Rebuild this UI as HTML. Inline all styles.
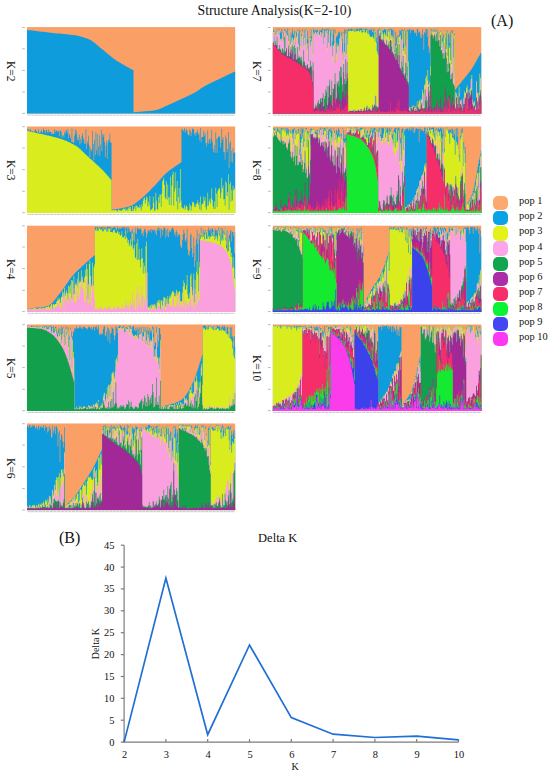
<!DOCTYPE html>
<html><head><meta charset="utf-8"><title>Structure Analysis</title>
<style>
html,body{margin:0;padding:0;background:#fff}
body{width:550px;height:773px;position:relative;overflow:hidden;font-family:"Liberation Serif",serif;color:#111}
.pn{position:absolute;display:block;shape-rendering:auto}
.t{position:absolute;white-space:nowrap;line-height:1}
.kl{position:absolute;white-space:nowrap;line-height:1;font-size:11.5px;transform-origin:0 0;transform:rotate(90deg)}
.sw{position:absolute;left:492.9px;width:15.6px;height:14.3px;border-radius:5px}
.lg{position:absolute;left:519px;font-size:10.4px;line-height:1;white-space:nowrap}
.tk{position:absolute;background:#dcdcdc;height:1px;width:1.6px}
.un{position:absolute;background:#e2e2e2;height:1.2px}
</style></head><body>

<div class="t" style="left:197.5px;top:3.5px;font-size:13.8px">Structure Analysis(K=2-10)</div>
<div class="t" style="left:491px;top:13.2px;font-size:16px">(A)</div>
<div class="t" style="left:59px;top:529.9px;font-size:16px">(B)</div>
<svg class="pn" style="left:0;top:0;width:550px;height:520px" viewBox="0 0 550 520">
<svg x="27.00" y="27.10" width="208.40" height="86.60" viewBox="0 0 313 400" preserveAspectRatio="none">
<rect width="313" height="400" fill="#FAA067"/>
<path fill="#0E9CDC" d="M0,400v-387h2v1h3v1h2v1h3v1h2v1h3v1h3v1h2v1h3v1h3v1h2v1h3v1h3v1h3v1h3v1h3v1h4v1h3v1h4v1h3v1h4v1h3v1h2v1h3v1h2v1h2v1h2v1h2v1h1v1h2v1h1v1h1v1h1v1h1v1h1v1h1v1h1v1h1v1h1v1h1v1h1v1h1v2h1v1h1v1h1v2h1v2h1v2h1v2h1v2h1v3h1v2h1v2h1v3h1v3h1v2h1v3h1v2h1v3h1v3h1v2h1v3h1v2h1v2h1v3h1v2h1v3h1v3h1v2h1v3h1v3h1v2h1v3h1v2h1v3h1v2h1v3h1v2h1v3h1v2h1v2h1v2h1v3h1v2h1v2h1v2h1v2h1v2h1v1h1v2h1v2h1v2h1v2h1v2h1v1h1v2h1v2h1v2h1v2h1v1h1v2h1v2h1v1h1v2h1v2h1v1h1v2h1v2h1v1h1v2h1v194h3v-1h4v-1h4v-1h5v-1h4v-1h3v-1h3v-1h3v-1h2v-1h2v-1h2v-1h1v-1h1v-1h1v-1h1v-2h1v-1h1v-1h1v-1h1v-2h1v-1h1v-2h1v-1h1v-2h1v-1h1v-1h1v-2h1v-1h1v-2h1v-1h1v-1h1v-2h1v-1h1v-1h1v-2h1v-1h1v-2h1v-1h1v-1h1v-2h1v-1h1v-2h1v-1h1v-2h1v-1h1v-2h1v-1h1v-2h1v-1h1v-1h1v-2h1v-1h1v-1h1v-2h1v-1h1v-2h1v-1h1v-1h1v-2h1v-1h1v-2h1v-1h1v-2h1v-1h1v-2h1v-1h1v-2h1v-2h1v-2h1v-1h1v-2h1v-2h1v-2h1v-2h1v-2h1v-3h1v-2h1v-2h1v-2h1v-2h1v-2h1v-2h1v-2h1v-1h1v-2h1v-2h1v-1h1v-2h1v-2h1v-1h1v-2h1v-1h1v-2h1v-1h1v-2h1v-1h1v-1h1v-2h1v-1h1v-2h1v-1h1v-2h1v-1h1v-1h1v-2h1v-1h1v-2h1v-1h1v-2h1v-1h1v-2h1v-1h1v-2h1v-1h1v-2h1v-1h1v-2h1v-1h1v-2h1v-1h1v-2h1v-1h1v-1h1v-2h1v-1h1v-2h1v-1h1v-2h1v-1h1V400z"/>
</svg>
<path d="M22.4,113.4h2.4M22.4,92.0h2.4M22.4,70.4h2.4M22.4,48.8h2.4M22.4,27.5h2.4" stroke="#a9a9a9" stroke-width="0.9" fill="none"/>
<path d="M27.5,115.1H234.9" stroke="#c6c6c6" stroke-width="1" stroke-dasharray="3.2 0.5" fill="none"/>
<svg x="27.00" y="126.30" width="208.40" height="86.70" viewBox="0 0 313 400" preserveAspectRatio="none">
<rect width="313" height="400" fill="#FAA067"/>
<path fill="#0E9CDC" d="M0,400v-385h1v-4h1v7h1v5h1v-7h1v-4h1v13h1v-1h1v-1h1v2h1v3h1v-8h1v-7h1v6h1v4h1v7h1v-4h1v-14h1v18h1v3h1v-8h1v-9h1v8h1v7h1v-22h1v10h2v13h1v-14h1v-2h1v9h1v6h1v-16h1v11h1v-3h1v4h1v10h1v-11h1v9h2v1h1v-22h1v14h1v-10h1v2h1v3h1v2h1v-5h1v26h1v-25h2v4h1v28h1v-10h1v-2h1v11h1v-26h1v8h1v-18h1v5h1v10h1v-18h1v43h1v-21h1v8h1v10h1v20h1v-63h1v62h1v3h1v1h1v-32h1v-32h1v23h1v-15h1v46h1v-16h1v13h1v-24h1v45h1v-25h1v18h1v-33h1v-12h1v20h1v11h1v17h1v1h1v-67h1v90h1v-34h1v11h1v-37h1v45h1v53h1v-40h1v13h1v-8h1v-86h1v61h1v76h1v-95h1v69h1v-105h1v83h1v-76h1v97h1v-38h1v-52h1v96h1v-53h1v-68h1v99h1v-80h1v13h1v-13h1v38h1v70h1v-54h1v-24h1v86h1v-74h1v-15h1v4h1v-33h1v43h1v-1h1v310h1v-1h2v-1h2v-1h2v-1h2v-1h3v-1h2v-1h2v-1h2v-1h1v-1h2v-1h1v-1h2v-1h1v-1h1v-1h1v-1h1v-1h1v-1h1v-2h1v-1h1v-2h1v-2h1v-2h1v-2h1v-3h1v-2h1v-2h1v-3h1v-2h1v-3h1v-2h1v-3h1v-3h1v-2h1v-3h1v-2h1v-3h1v-3h1v-2h1v-3h1v-3h1v-3h1v-3h1v-3h1v-3h1v-3h1v-4h1v-3h1v-3h1v-3h1v-3h1v-3h1v-3h1v-4h1v-3h1v-3h1v-4h1v-3h1v-4h1v-3h1v-4h1v-3h1v-4h1v-3h1v-4h1v-3h1v-3h1v-3h1v-3h1v-3h1v-3h1v-3h1v-2h1v-3h1v-2h1v-2h1v-3h1v-2h1v-2h1v-2h1v-2h1v-2h1v-3h1v-2h1v-2h1v-2h1v-2h1v-2h1v-2h1v-2h1v-2h1v-2h1v-3h1v-153h1v1h1v8h1v-3h1v-12h1v23h1v-12h1v-6h1v8h1v16h1v7h1v-3h1v-28h1v10h1v24h1v-17h1v-19h1v3h1v2h1v23h1v-9h1v15h1v-15h2v-13h1v24h1v-9h1v34h1v-57h1v66h1v-23h1v-3h1v1h1v-29h1v23h1v-13h1v48h1v14h1v-16h1v-58h1v62h1v-16h1v-7h1v22h1v-22h1v-41h1v55h1v32h1v15h1v-31h1v36h1v-95h1v31h1v64h1v-69h1v-7h1v3h1v-4h1v52h1v-22h1v-65h1v51h1v-10h1v67h1v1h1v34h1v-111h1v13h1v63h1v-15h1v-78h1v166h1v-114h1v-9h1v95h1v-51h1v53h1v-66h1v26h1v-4h1v-4h1V400z"/>
<path fill="#D9EC1E" d="M0,400v-379h1v1h1v1h1v1h2v1h1v1h2v1h1v1h2v1h1v1h2v1h1v1h2v1h1v1h2v1h1v1h2v1h1v1h2v1h1v1h2v1h1v1h2v1h1v1h1v1h2v1h1v1h1v1h2v1h1v1h1v1h1v1h1v1h2v1h1v1h1v1h1v1h1v1h1v1h1v1h1v1h1v1h1v1h1v2h1v1h1v1h1v1h1v2h1v1h1v1h1v2h1v1h1v2h1v1h1v2h1v2h1v1h1v2h1v2h1v2h1v1h1v2h1v2h1v3h1v2h1v3h1v2h1v3h1v3h1v3h1v3h1v3h1v3h1v3h1v3h1v3h1v3h1v3h1v2h1v3h1v3h1v3h1v3h1v2h1v3h1v3h1v3h1v3h1v2h1v3h1v3h1v3h1v2h1v3h1v3h1v3h1v3h1v3h1v3h1v3h1v3h1v3h1v3h1v4h1v3h1v4h1v3h1v4h1v3h1v4h1v4h1v3h1v4h1v4h1v141h1v-2h2v-2h1v3h1v-3h2v3h1v4h1v-2h1v-9h1v5h1v2h1v1h1v-1h1v2h1v-6h1v-4h1v-1h1v5h1v-6h1v12h1v-5h1v-5h1v11h1v-15h1v-4h1v9h1v-9h1v19h2v-25h1v25h1v-10h1v-8h1v-7h1v24h1v-25h1v3h1v8h1v-4h1v6h1v-16h1v11h1v15h1v-29h1v11h1v-27h1v-10h1v-4h1v28h1v-17h1v-16h1v6h1v40h1v-22h1v17h1v-44h1v68h1v-4h1v-3h1v-4h1v-54h1v29h1v37h1v-3h1v-80h1v37h1v38h1v3h1v-59h1v28h1v-39h1v1h1v55h1v-61h1v-55h1v-7h1v-11h1v34h1v56h1v9h1v-83h1v85h1v-69h1v59h1v34h1v-36h1v-93h1v131h1v-91h1v-49h1v-14h1v157h1v-66h1v-89h1v74h1v61h1v-95h1v132h1v-58h1v-41h1v69h1v-157h1v146h1v32h2v7h1v-5h1v-14h1v22h1v-14h1v-7h1v7h1v15h1v5h1v-5h1v-29h1v8h1v23h1v-19h1v-20h1v1h1v1h1v20h1v-10h1v13h1v-17h1v-2h1v-14h1v22h1v-12h1v32h1v-59h1v64h1v-26h1v-5h1v-2h1v-31h1v20h1v-15h1v45h1v11h1v-18h1v-61h1v59h1v-18h1v-10h1v19h1v-24h1v-45h1v53h1v29h1v12h1v-34h1v34h1v-98h1v28h1v61h1v-72h1v-10h2v-8h1v50h1v-25h1v-69h1v48h1v-13h1v64h1v-2h1v30h1v-113h1v10h1v59h1v-18h1v-81h1v163h1v-118h1v-11h1v91h1v-54h1v49h1v-68h1v22h1v-7h1v-7h1V400z"/>
</svg>
<path d="M22.4,212.7h2.4M22.4,191.3h2.4M22.4,169.7h2.4M22.4,148.0h2.4M22.4,126.7h2.4" stroke="#a9a9a9" stroke-width="0.9" fill="none"/>
<path d="M27.5,214.4H234.9" stroke="#c6c6c6" stroke-width="1" stroke-dasharray="3.2 0.5" fill="none"/>
<svg x="27.00" y="225.40" width="208.40" height="86.50" viewBox="0 0 313 400" preserveAspectRatio="none">
<rect width="313" height="400" fill="#FAA067"/>
<path fill="#0E9CDC" d="M0,400v-15h2v-1h3v-1h3v-1h4v-1h3v-1h3v-1h3v-1h2v-1h3v-1h1v-1h2v-1h1v-1h2v-2h1v-2h1v-2h1v-2h1v-3h1v-3h1v-3h1v-3h1v-4h1v-4h1v-3h1v-4h1v-5h1v-4h1v-4h1v-4h1v-4h1v-4h1v-4h1v-4h1v-4h1v-4h1v-4h1v-4h1v-5h1v-4h1v-5h1v-4h1v-5h1v-4h1v-5h1v-4h1v-5h1v-4h1v-4h1v-4h1v-3h1v-4h1v-3h1v-3h1v-4h1v-3h1v-3h1v-3h1v-3h1v-3h1v-2h1v-3h1v-3h1v-3h1v-3h1v-3h1v-3h1v-2h1v-3h1v-3h1v-3h1v-3h1v-2h1v-3h1v-3h1v-3h1v-2h1v-3h1v-3h1v-2h1v-3h1v-3h1v-3h1v-2h1v-129h1v-2h1v2h1v-2h1v4h1v8h1v-11h1v2h1v1h1v-3h1v-1h1v2h1v11h1v-12h1v3h1v5h1v-9h1v11h1v-9h1v-3h1v3h1v-3h1v4h1v-2h1v16h1v-15h1v4h1v-1h1v-4h1v-2h1v2h1v11h1v1h1v-9h1v-5h1v14h1v-6h1v-3h1v4h1v-6h1v6h1v-7h2v1h1v-1h1v33h1v-29h1v-4h1v1h1v25h1v-25h1v6h1v13h1v2h1v-4h1v50h1v-61h1v51h1v-34h1v44h1v-66h1v25h1v6h1v-28h1v-4h1v8h1v2h1v-2h1v-6h1v10h1v22h1v-8h1v16h1v-24h1v-11h1v2h1v14h1v25h1v-16h1v-16h1v-2h1v6h1v-6h1v-5h1v16h1v-17h1v5h1v-3h1v7h1v-7h1v19h1v-12h1v20h1v-33h1v8h1v-11h1v15h1v-14h1v45h1v-38h2v27h1v-23h1v-14h1v3h1v5h1v41h1v-35h1v27h1v-35h1v41h1v-23h1v-11h1v9h1v-8h1v-8h1v-3h2v11h1v20h1v-10h1v18h1v-28h1v10h1v21h1v-10h1v-3h1v6h1v46h1v7h1v6h1v-38h1v-25h1v-22h1v15h1v34h1v7h1v-16h1v-43h1v95h1v24h1v4h1v-22h1v-74h1v-6h1v66h1v43h1v-19h1v-73h1v137h1v-98h1v69h1v-99h1v-43h1v65h1v82h1v-131h1v28h1v-19h1v-37h1v35h1v8h1v-34h1v25h1v-10h1v-8h1v-4h1v11h1v14h1v-25h1v-11h1v12h1v2h1v-8h1v24h1v-23h1v-5h1v9h1v20h1v23h1v-48h1v8h1v-1h1v14h1v-16h1v-13h1v15h1v15h1v8h1v-36h1v17h1v-12h1v43h1v-33h1v8h1v-23h1v47h1v34h1v-68h1v85h1v-43h1v-17h1v-7h1v-17h2v50h1v-43h1v-1h1v19h1v79h1v-96h1V400z"/>
<path fill="#D9EC1E" d="M0,400v-14h1v-1h1v3h1v-4h1v3h1v-2h4v-2h2v-1h1v2h1v2h1v-2h1v4h1v-4h2v-3h1v2h1v-2h1v6h1v-8h1v5h1v-4h1v3h2v-2h1v-5h1v2h1v-1h1v-2h1v-2h1v8h1v-4h1v-6h1v-6h1v1h1v21h1v-22h1v-1h1v4h1v-5h2v-11h1v-3h1v-14h1v11h1v-9h1v5h1v17h1v-29h1v1h1v-27h1v8h1v23h1v-47h1v36h1v-13h1v-11h1v14h1v31h1v-65h1v2h1v33h1v-40h1v-23h1v87h1v-84h1v66h1v-87h1v82h1v-43h1v-5h1v9h1v-31h1v41h1v-71h1v49h1v-9h1v6h1v-55h1v47h1v-18h1v26h1v3h1v-24h1v-36h1v29h1v-55h1v22h1v141h1v-70h1v-93h1v-17h1v71h1v49h1v-10h1v-99h1v106h1v-84h1v-14h1v-162h1v6h1v-14h1v15h1v-7h1v6h1v-11h2v5h1v2h1v-7h1v13h1v1h1v-6h1v-5h1v2h1v-3h1v12h1v-9h1v11h1v-17h1v5h1v-6h1v18h1v1h1v-1h1v3h1v-8h1v-6h1v2h1v13h2v2h1v-12h1v5h1v10h1v-9h1v14h1v3h1v-4h1v-16h1v27h1v3h1v-4h1v-5h1v15h1v-37h1v28h1v6h1v21h1v-14h1v28h1v-11h1v-20h1v35h1v-9h1v-53h1v76h1v-8h1v-16h1v58h1v6h1v-70h1v77h1v-97h1v95h1v-49h1v52h1v33h1v-40h1v-48h1v45h1v72h1v-50h1v16h1v33h1v-127h1v-20h1v143h1v162h1v-4h1v6h1v-8h1v-5h1v14h1v-18h1v4h1v-4h1v6h1v-9h1v18h1v-13h1v19h1v-35h1v7h1v-12h1v14h1v-16h1v44h1v-40h1v-2h1v26h1v-24h1v-17h1v1h1v4h1v39h1v-37h1v25h1v-37h1v38h1v-25h1v-14h1v7h1v-11h1v-10h1v-6h1v-3h1v8h1v17h1v-13h1v15h1v-31h1v8h1v17h1v-13h1v-6h1v2h1v42h1v3h1v2h1v-42h1v-29h1v-27h1v11h1v29h1v2h1v-20h1v-48h1v90h1v19h2v-26h1v-79h1v-10h1v61h1v39h1v-23h1v-78h1v133h1v-103h1v65h1v-103h1v-47h1v60h1v77h1v-135h1v24h1v-131h1v-27h1v18h1v3h1v-13h1v8h1v14h1v-23h1v-16h1v36h1v1h1v-38h1v27h1v-4h1v15h1v-12h1v1h1v-12h1v9h1v-18h1v20h1v16h1v-18h1v13h1v-16h1v10h1v15h1v-48h1v16h1v10h1v39h1v-65h1v48h1v-11h1v10h1v-32h1v5h1v-30h1v57h1v35h1v6h1v11h1v-5h1v-54h1v11h1v27h1v45h1v-18h1v70h1v-52h1v45h1v55h1v-45h1V400z"/>
<path fill="#FBA0DE" d="M0,400v-9h1v-3h1v3h1v-6h1v4h1v-3h1v3h1v-3h1v3h2v-3h1v-1h1v7h1v-4h1v3h1v-2h1v-3h1v1h1v-2h1v4h1v-5h1v6h1v-7h1v3h1v6h1v-6h1v-1h1v5h1v-11h1v4h1v5h1v-2h1v-2h1v6h1v-1h1v-17h1v15h1v-16h1v19h1v-9h1v4h1v-6h1v-3h1v2h1v-4h1v1h1v-17h1v-1h1v-13h1v34h1v12h1v-31h1v11h1v-47h1v1h1v59h1v-81h1v40h1v-5h1v16h1v-18h1v27h1v-50h1v18h1v15h1v-15h1v5h1v20h1v-96h1v76h1v-46h1v69h1v2h1v-56h1v48h1v-94h1v68h1v-56h1v72h1v-30h1v-35h1v-34h1v46h1v-31h1v36h1v17h1v43h1v3h1v-105h1v73h1v-91h1v138h1v-14h1v-24h1v-84h1v29h1v90h1v-58h1v-77h1v76h1v-34h1v66h1v44h1v6h1v-14h1v14h1v-7h1v6h1v-12h2v5h1v2h1v-8h1v13h2v-6h1v-5h1v1h1v-3h1v11h1v-8h1v10h1v-17h1v4h1v-6h1v17h2v-1h1v2h1v-9h1v-7h1v1h1v12h1v-1h2v-13h1v4h1v8h1v-11h1v12h1v1h1v-6h1v-18h1v24h2v-6h1v-8h1v12h1v-41h1v24h1v1h1v16h1v-19h1v23h1v-16h1v-26h1v29h1v-14h1v-59h1v70h1v-13h1v-22h1v52h1v-1h1v-76h1v70h1v-104h1v88h1v-56h1v46h1v25h1v-46h1v-55h1v38h1v65h1v-56h1v11h1v26h1v-133h1v-26h1v137h1v42h1v6h1v-7h1v8h1v-14h1v8h1v4h1v-19h1v20h1v-4h1v-16h1v12h1v6h2v-4h1v-25h1v9h1v7h1v-4h1v19h1v-3h1v-14h1v5h1v7h1v-45h1v5h1v42h2v-14h1v-6h1v-17h1v14h1v7h1v-19h1v20h1v-5h1v10h1v-33h1v-26h1v14h1v46h1v-3h1v-3h1v-15h1v-41h1v64h1v-16h1v-47h1v7h1v51h1v-14h1v13h1v-17h1v25h1v-79h1v53h1v28h1v-44h1v16h1v9h1v-1h1v16h1v-34h1v6h1v-75h1v62h1v34h2v-56h1v-70h1v139h1v-95h1v69h1v-37h1v43h1v-62h1v45h1v-109h1v106h1v-279h2v1h1v1h2v1h2v1h1v1h2v1h2v1h1v1h2v1h2v1h1v1h1v1h2v1h1v1h1v1h1v1h1v1h1v2h1v1h1v2h1v1h1v2h1v3h1v2h1v3h1v3h1v3h1v4h1v3h1v4h1v4h1v5h1v6h1v7h1v8h1v9h1v10h1v12h1v13h1v21h1v27h1v27h1v23h1v17h1V400z"/>
</svg>
<path d="M22.4,311.6h2.4M22.4,290.3h2.4M22.4,268.6h2.4M22.4,247.0h2.4M22.4,225.8h2.4" stroke="#a9a9a9" stroke-width="0.9" fill="none"/>
<path d="M27.5,313.3H234.9" stroke="#c6c6c6" stroke-width="1" stroke-dasharray="3.2 0.5" fill="none"/>
<svg x="27.00" y="324.30" width="208.40" height="86.70" viewBox="0 0 313 400" preserveAspectRatio="none">
<rect width="313" height="400" fill="#FAA067"/>
<path fill="#0E9CDC" d="M0,400v-391h1v-3h1v1h1v1h1v4h2v-5h1v3h3v2h1v-1h1v-3h1v4h1v-5h1v4h1v-4h1v1h1v7h1v-5h1v2h1v-5h1v8h1v-4h1v-4h1v15h1v-13h2v1h1v-4h1v8h1v2h1v-6h1v9h1v-13h1v4h1v-1h1v3h1v1h1v-5h1v24h1v-14h1v-7h1v2h1v16h1v17h1v-9h1v-18h1v17h1v-17h1v21h1v-31h1v66h1v-58h1v-3h1v11h1v71h1v-44h1v-43h1v29h1v-2h1v-23h1v34h1v10h1v22h1v-63h1v16h1v105h1v-83h1v-22h1v3h1v-17h1v1h2v-11h1v10h1v2h1v-3h1v-2h1v-8h1v9h1v-2h1v8h1v-3h1v-8h1v1h1v-1h1v6h2v4h1v3h1v-7h1v-6h1v1h1v2h1v6h1v-6h1v12h1v-5h1v-10h1v1h1v18h1v-20h1v5h1v-7h1v16h1v-5h1v-13h1v38h1v6h1v-7h1v5h1v-8h1v6h1v-24h1v-12h1v-1h1v46h1v-4h1v-17h1v-22h1v64h1v-59h1v10h1v60h1v-45h1v-3h1v-27h1v6h1v3h1v29h1v24h1v-21h1v-44h1v3h1v28h1v-22h1v-6h1v-6h1v1h1v1h1v3h1v7h1v-4h1v-4h1v-2h1v12h1v3h1v-7h1v-4h1v3h1v3h1v-11h1v4h1v-3h2v9h1v15h1v-20h1v-2h1v-2h1v20h1v4h1v-16h1v12h1v-14h1v36h1v-30h1v26h1v-34h1v30h1v-29h1v23h1v2h1v1h1v-26h1v18h1v-18h1v43h1v-30h1v59h1v-74h1v20h1v60h1v-74h1v14h1v8h1v-14h1v-16h1v33h1v-29h1v87h1v-15h1v-2h1v-72h1v37h1v56h1v-27h1v-59h1v-1h1v29h1v335h1v-1h1v-1h1v-1h1v-1h1v-1h1v-1h2v-1h1v-1h1v-1h1v-1h2v-1h1v-1h1v-1h1v-1h2v-1h1v-1h1v-1h1v-1h1v-2h1v-1h1v-1h1v-1h1v-2h1v-1h1v-2h1v-1h1v-2h1v-2h1v-3h1v-2h1v-4h1v-3h1v-4h1v-5h1v-4h1v-5h1v-5h1v-5h1v-6h1v-6h1v-5h1v-6h1v-6h1v-6h1v-6h1v-7h1v-8h1v-7h1v-9h1v-9h1v-9h1v-9h1v-10h1v-10h1v-10h1v-9h1v-10h1v-10h1v-9h1v-133h1v-1h1v-1h2v4h1v7h1v-10h1v5h1v-5h1v-1h1v3h1v4h1v-4h1v6h1v-1h1v10h1v-15h2v12h1v1h1v-4h1v-12h1v2h1v3h1v-5h1v5h1v10h1v6h1v-14h1v-3h1v-3h1v10h1v-10h1v7h1v24h1v1h1v-27h1v2h1v21h1v5h1v-25h1v1h1v41h1v-45h1v49h1v-7h1v44h1v-43h1v48h1V400z"/>
<path fill="#D9EC1E" d="M0,400v-389h1v-4h2v2h1v4h1v-1h1v1h2v-1h1v1h1v1h2v-5h1v4h1v1h1v2h1v-8h1v4h1v6h1v-6h1v1h1v-6h1v9h1v2h1v-8h1v14h1v-6h1v-7h2v15h1v-4h1v-1h2v-1h1v-7h1v1h1v25h1v-8h1v-16h1v23h1v4h1v-7h1v-18h1v15h1v15h1v14h1v-7h1v-14h1v15h1v-21h1v12h1v25h1v17h1v-43h1v-27h1v42h1v39h1v-6h1v-71h1v30h1v-9h1v-14h1v76h1v-34h1v96h1v-142h1v34h1v140h1v-127h1v55h1v30h1v232h1v1h1v-1h1v-10h1v9h1v2h1v-4h1v-2h1v-8h1v8h1v-2h1v8h1v-3h1v-8h2v-1h1v5h2v3h1v3h1v-7h1v-7h2v3h1v5h1v-7h1v11h1v-5h1v-11h1v-1h1v17h1v-22h1v4h1v-9h1v13h1v-8h1v-16h1v34h1v3h1v-10h1v1h1v-12h1v2h1v-29h1v-16h1v-6h1v40h1v-11h1v-24h1v-30h1v55h1v-67h1v1h1v51h1v-55h1v-12h1v-36h1v-4h1v-6h1v19h1v13h1v-31h1v-56h1v-7h1v18h1v-33h1v-124h2v1h1v-7h1v7h2v1h1v-5h1v5h1v19h1v-1h1v-19h1v2h1v1h1v2h1v-14h1v28h1v-25h1v10h1v-1h1v18h1v7h1v6h1v2h1v3h1v-8h1v-1h1v6h1v-6h1v12h1v8h1v-21h1v1h1v-3h1v-1h1v-6h1v39h1v-23h1v5h1v-25h1v-2h1v59h1v-16h1v21h1v-51h1v16h1v36h1v-15h1v-10h1v8h1v-6h1v-50h1v36h1v92h1v-5h1v-33h1v36h1v-110h1v108h1v9h1v29h1v-34h1v55h1v-133h1v315h1v-8h1v-1h1v-1h1v-2h1v1h1v1h1v2h1v-6h1v2h1v11h1v-11h1v-6h1v1h1v-1h1v3h1v1h1v-2h2v6h1v-15h1v8h1v11h1v-18h1v10h1v-5h1v-12h1v18h1v-2h1v-16h1v24h1v-20h1v9h1v-5h1v12h1v-41h1v13h1v-6h1v-3h1v9h1v18h1v-48h1v3h1v-21h1v-1h1v16h1v-34h1v39h1v-3h1v-7h1v-57h1v13h1v-4h1v-28h1v25h1v113h1v-38h1v-69h1v26h1v-27h1v-66h1v-18h1v98h1v-266h1v6h1v-3h1v8h1v1h1v-7h1v-9h1v15h1v-2h1v-15h1v5h1v2h1v-4h1v8h2v8h1v-3h1v-13h1v14h1v-1h1v1h1v-4h1v-4h1v3h1v4h1v7h1v-6h1v4h1v-1h1v-7h1v6h1v2h1v1h1v2h1v7h1v4h2v4h1v-7h1v22h1v-43h1v48h2v10h1v35h1v-32h1v65h1v13h1v-31h1V400z"/>
<path fill="#FBA0DE" d="M0,400v-386h1v-7h2v4h1v3h2v-1h1v1h1v2h1v-3h1v1h1v1h1v-5h1v8h3v-9h1v7h1v2h1v-4h1v2h1v-7h1v11h1v-2h1v-5h1v11h1v-5h1v-4h1v3h1v11h1v-1h1v-6h1v2h2v-10h1v2h1v24h1v-2h1v-19h1v20h1v4h1v-2h1v-3h1v-2h1v12h1v15h1v-6h1v-14h1v39h1v-21h1v-8h1v37h1v7h1v-41h1v-33h1v53h1v29h1v1h1v-83h1v57h1v-27h1v-15h1v81h1v48h1v4h1v-145h1v35h1v157h1v-72h1v4h1v86h1v154h2v1h1v-4h1v2h1v3h1v-6h1v4h1v-1h1v-4h2v5h1v-3h1v-2h1v-2h1v2h1v-2h1v2h1v4h1v1h1v1h1v-16h1v2h1v11h1v-4h1v-6h1v10h1v-5h1v-10h1v3h1v13h1v-15h1v1h1v16h1v-15h1v-11h1v-13h1v40h1v-1h1v-13h1v7h1v-6h1v-3h1v-26h1v-19h1v-12h1v39h1v2h1v-36h1v13h1v34h1v-28h1v-53h1v53h1v8h1v-74h1v-12h1v48h1v-88h1v35h1v29h1v-66h1v-27h1v-34h1v15h1v-8h1v-144h1v-8h1v10h1v-13h1v8h1v-3h1v5h1v-5h1v9h1v12h1v-1h1v-5h1v-11h1v2h1v1h1v-17h1v41h1v-31h1v24h1v-21h1v25h1v4h1v7h1v4h2v-9h1v7h1v-1h1v5h1v9h1v-2h1v-20h1v3h1v-7h2v-7h1v48h1v-30h1v18h1v-37h1v13h1v43h1v-17h1v24h1v-53h1v15h1v45h1v-22h1v-4h1v30h1v-33h1v-45h1v43h1v76h1v3h1v-38h1v41h1v-118h1v134h1v-5h1v18h1v-32h1v65h1v-119h1v287h1v-6h1v-4h1v1h1v6h1v-8h1v6h1v-4h1v-5h1v9h1v4h1v-11h1v5h1v-8h1v-3h1v3h1v2h1v-2h1v1h1v4h1v-2h1v-6h1v14h1v-21h1v21h1v2h1v-25h1v24h1v-11h1v-14h1v22h1v-13h1v13h1v-16h1v16h1v-44h1v12h1v6h1v-7h2v18h1v-47h1v40h1v-36h1v12h1v3h1v37h1v-47h1v-8h1v23h1v-84h1v58h1v-39h1v16h1v-9h1v98h1v-13h1v-58h1v9h1v-42h1v-44h1v-46h1v144h1v46h1v5h1v-3h1v8h2v-7h1v-10h1v16h1v-2h1v-16h1v5h1v2h1v-4h1v8h1v-1h1v8h1v-4h1v-12h1v13h1v-2h1v1h1v-5h1v-3h1v2h1v3h1v7h1v-7h1v4h1v-2h1v-8h1v5h1v2h1v-1h2v4h1v1h1v-4h1v-2h1v-11h1v15h1v-50h1v42h1v-11h1v-7h1v14h1v-56h1v40h1v-12h1v-59h1V400z"/>
<path fill="#12A04C" d="M0,400v-385h1v1h4v1h5v1h4v1h3v1h3v1h2v1h1v1h1v1h1v1h1v1h1v1h1v2h1v1h1v2h1v2h1v2h1v2h1v2h1v2h1v2h1v2h1v3h1v2h1v3h1v3h1v4h1v3h1v4h1v4h1v4h1v4h1v5h1v4h1v5h1v5h1v5h1v5h1v6h1v7h1v7h1v7h1v8h1v8h1v8h1v9h1v9h1v10h1v10h1v11h1v11h1v11h1v11h1v11h1v11h1v127h1v2h1v-1h1v-4h1v3h1v1h1v-5h1v6h1v-2h1v-6h1v7h2v-2h1v-1h1v2h1v-5h1v-2h1v1h1v6h2v1h1v-11h1v10h1v-2h1v1h1v-4h1v4h1v-2h1v-5h1v6h1v1h1v-7h1v-2h1v11h1v-1h1v-4h1v-30h1v35h2v-8h1v3h1v-4h1v3h1v-35h1v14h1v11h1v11h1v2h1v-4h1v-4h1v10h1v-34h1v27h1v6h1v-36h1v31h1v-40h1v39h1v-73h1v71h1v-11h1v-9h1v-94h1v96h1v25h1v-6h1v5h1v-9h1v8h1v-14h1v7h1v-5h1v4h1v-7h1v7h1v11h1v-2h1v-6h1v-13h1v1h1v-1h1v-18h1v39h1v-32h1v22h1v-23h1v24h1v2h1v5h1v2h1v-2h1v-11h1v6h1v-3h1v3h1v7h1v-5h1v-22h1v1h1v-9h1v-3h1v-9h1v45h1v-33h1v16h1v-41h1v10h1v39h1v-20h1v20h1v-57h1v12h1v40h1v-26h1v-10h1v26h1v-38h1v-51h1v38h1v71h1v-4h1v-43h1v34h1v-125h1v127h1v-13h1v11h1v-41h1v58h1v-127h1v130h1v-1h1v-9h1v10h1v-1h1v-9h1v10h1v-7h1v-8h1v12h1v3h1v1h1v-2h1v-8h1v-6h1v2h1v5h1v-3h1v-2h1v13h1v-1h1v-17h1v19h1v-22h1v21h2v-21h1v20h1v-10h1v-8h1v15h1v5h1v-6h1v-11h1v12h1v-16h1v-7h2v15h1v-10h1v5h1v-52h1v59h1v-5h1v-12h1v-12h1v31h1v-15h1v19h1v-11h1v-42h1v53h1v-65h1v32h1v-50h1v86h1v-10h1v-12h1v-31h1v-20h1v-77h1v-5h1v137h1v20h2v-6h1v6h1v1h1v-6h1v5h2v-2h1v1h1v-9h1v5h1v-2h2v-1h1v8h1v-4h1v-1h1v5h1v-1h1v-2h1v-6h1v3h1v1h1v2h1v3h1v-6h1v5h1v-1h1v-4h1v4h2v-1h1v2h1v1h1v-3h1v-2h2v5h1v-4h1v-14h1v8h1v-4h1v-4h1v2h1v-30h1v24h1v1h1v-53h1V400z"/>
</svg>
<path d="M22.4,410.7h2.4M22.4,389.3h2.4M22.4,367.6h2.4M22.4,346.0h2.4M22.4,324.7h2.4" stroke="#a9a9a9" stroke-width="0.9" fill="none"/>
<path d="M27.5,412.4H234.9" stroke="#c6c6c6" stroke-width="1" stroke-dasharray="3.2 0.5" fill="none"/>
<svg x="27.00" y="423.30" width="208.40" height="87.00" viewBox="0 0 313 400" preserveAspectRatio="none">
<rect width="313" height="400" fill="#FAA067"/>
<path fill="#0E9CDC" d="M0,400v-390h1v5h1v4h1v-11h2v13h1v-4h1v-2h1v-6h1v1h1v4h1v-4h1v14h1v-3h1v-8h1v15h1v-10h1v-8h1v19h1v-17h1v5h1v4h1v-10h1v9h1v-11h1v10h1v14h1v-25h1v12h1v-3h1v25h1v-25h1v20h1v-26h1v21h1v-10h1v45h1v-5h1v-53h1v34h1v-10h1v-19h1v35h1v-34h1v-2h1v11h1v81h1v-63h1v-8h1v144h1v-102h1v-27h1v8h1v26h1v28h1v-25h1v-68h1v362h1v-3h1v-3h1v-3h1v-3h1v-3h1v-2h1v-3h1v-3h1v-3h1v-3h1v-4h1v-3h1v-3h1v-4h1v-4h1v-4h1v-4h1v-5h1v-4h1v-5h1v-5h1v-4h1v-5h1v-5h1v-5h1v-5h1v-4h1v-5h1v-5h1v-4h1v-5h1v-5h1v-5h1v-4h1v-5h1v-5h1v-5h1v-5h1v-6h1v-5h1v-5h1v-6h1v-5h1v-6h1v-6h1v-7h1v-6h1v-6h1v-7h1v-7h1v-6h1v-7h1v-6h1v-7h1v-6h1v-95h1v-12h1v-3h1v2h1v-6h1v23h1v-13h1v3h1v-8h1v8h1v14h1v-17h1v16h1v-25h1v45h1v-37h1v36h1v-41h1v5h1v8h1v-7h1v-9h1v9h1v-4h1v29h1v-35h1v12h1v-10h1v4h1v7h1v45h1v-43h1v-3h1v-8h1v50h1v-38h1v12h1v-28h1v31h1v-27h1v54h1v-20h1v-36h1v12h1v81h1v-86h1v9h1v-1h1v5h1v52h1v-70h1v5h1v1h1v3h2v6h1v18h1v77h1v-104h1v15h1v-23h1v14h1v-12h1v9h1v10h1v-15h1v5h1v-9h1v11h1v-14h3v10h1v-6h1v11h1v3h1v-3h1v-11h1v21h1v-17h1v24h1v-28h1v-3h1v15h1v11h1v-28h1v19h1v25h1v7h1v-37h1v-7h1v34h1v-29h1v30h1v17h1v-51h1v5h1v7h1v-17h1v14h1v97h1v-69h1v-15h1v9h1v28h1v-6h1v-47h1v-8h1v34h1v-35h1v17h1v51h1v-34h1v-20h1v71h1v-91h1v1h2v12h1v-13h1v2h1v-2h1v13h1v12h1v-21h1v-3h1v18h1v-17h1v8h1v-4h1v-6h1v3h1v25h1v-21h1v-4h1v30h1v3h1v1h1v-26h1v-2h1v-7h1v9h1v-1h1v-7h1v-2h1v12h1v27h1v-11h1v-2h1v-25h1v8h1v-9h1v24h1v41h1v1h1v-59h1v34h1v45h1v-12h1v-59h1v-7h1v85h1v78h1v-171h1v14h1v-3h2v9h1v-2h1v-12h1v12h1v-17h1v-1h1v26h1v-24h1v17h1v-16h1v22h1v24h1v-39h1v-10h1v7h1v19h1v8h1v-19h1v3h1v-4h1v-10h1v5h1v-4h1v7h1v97h1v-105h1v43h1v-20h1v38h1v-23h1v-15h1v26h1v-31h1V400z"/>
<path fill="#D9EC1E" d="M0,400v-19h1v4h1v4h1v-11h1v-1h1v12h1v-5h1v-2h1v-6h2v4h1v-5h1v13h1v-4h1v-8h1v14h1v-11h1v-9h1v18h1v-18h1v4h1v3h1v-11h1v6h1v-12h1v8h1v11h1v-27h1v9h1v-7h1v22h1v-29h1v17h1v-31h1v17h1v-14h1v40h1v-10h1v-60h1v26h1v-19h1v-30h1v24h1v-46h1v-13h1v1h1v70h1v-73h1v-18h1v134h1v-112h1v-37h1v-2h1v17h1v17h1v-35h1v-77h1v249h1v-4h1v-2h1v-5h1v4h1v-5h2v-7h1v-2h1v-3h2v-10h1v-3h1v9h1v-17h1v18h1v-23h1v14h1v-21h1v-3h1v43h1v-9h1v-51h1v-2h1v4h1v44h1v-60h1v-11h1v2h1v6h1v-19h1v19h1v41h1v-64h1v-15h1v-4h1v6h1v-8h1v2h1v7h1v6h1v3h1v-51h1v44h1v-54h1v20h1v30h1v-38h1v75h1v-18h1v-110h1v-3h1v55h1v-68h1v45h1v-46h1v-113h1v2h1v-15h1v-2h1v15h1v9h1v-19h1v7h1v-14h1v9h1v23h1v11h1v-15h1v-4h1v26h1v-39h1v29h1v-30h1v2h1v5h1v5h1v-24h1v7h1v7h1v29h1v-44h1v12h1v3h1v6h1v6h1v44h1v-51h1v9h1v53h1v-28h1v-31h1v17h1v6h1v-7h1v-29h1v46h1v-11h1v-41h1v9h1v92h1v-67h1v59h1v-29h1v-36h1v51h1v-61h1v26h1v-30h1v-5h2v14h1v37h1v61h1v-97h1v-2h1v-25h1v15h1v-12h1v7h1v11h1v-3h1v6h1v-10h1v1h1v11h1v-17h1v20h1v-19h1v-1h1v13h1v19h1v-24h1v26h1v-11h1v-21h1v19h1v7h1v-28h1v47h1v-24h1v-34h1v39h1v12h2v1h1v-44h1v33h1v-26h1v39h1v8h1v-52h1v71h1v-39h1v-37h1v100h1v20h1v-53h1v-2h1v-28h1v121h1v-46h1v33h1v-139h1v49h1v-4h1v105h1v-35h1v-47h1v92h1v-46h1v-120h1v-7h2v20h1v-19h1v5h1v1h1v5h1v13h1v-21h1v4h1v14h1v-15h1v2h1v-2h2v-4h1v29h1v-21h1v14h1v9h1v6h1v-2h1v-13h1v-12h1v4h1v-5h1v33h1v-31h1v-13h1v45h1v-1h1v-16h1v49h1v-70h1v4h2v19h1v36h1v4h1v-52h1v30h1v54h1v-22h1v12h1v-69h1v73h1v88h1v-183h1v15h1v8h2v3h1v-3h1v-15h1v15h1v-20h1v-3h1v29h1v-27h1v17h1v-16h1v31h1v29h1v-32h1v-21h1v47h1v-9h1v-13h1v-19h1v34h1v-35h1v-10h1v14h1v-2h1v53h1v41h1v-90h1v71h1v33h1v-52h1v6h1v7h1v-25h1v-15h1V400z"/>
<path fill="#FBA0DE" d="M0,400v-10h1v-4h1v4h1v-12h1v9h1v3h1v-4h1v2h1v-6h1v7h1v-9h1v12h1v-3h2v-6h1v7h1v-9h1v5h1v2h1v-2h1v-4h1v4h1v-17h1v5h2v8h1v1h1v-16h1v9h1v7h1v-2h1v1h1v-9h1v-39h1v31h1v-1h1v13h1v-5h1v-65h1v39h1v-9h1v-51h1v32h1v6h1v12h1v-65h1v58h1v-28h1v37h1v44h1v-91h1v1h1v-72h1v66h1v-17h1v-8h1v-124h1v251h1v-5h1v1h1v2h1v-9h1v-1h1v-3h1v18h1v-21h1v20h1v-30h1v-2h1v-5h1v20h1v-34h1v32h1v-8h1v5h1v-14h1v15h1v6h1v-15h1v8h1v16h1v2h1v-15h1v-46h2v9h1v39h1v-84h1v96h1v-51h1v8h1v23h1v-10h1v14h1v2h1v-53h1v34h1v-44h1v-37h1v56h1v-24h1v-94h1v21h1v44h1v22h1v23h1v-26h1v-22h1v1h1v55h1v-103h1v120h1v-99h1v-210h1v7h1v-24h1v17h1v-3h1v17h1v-13h1v-6h1v-8h1v18h1v13h1v7h1v-17h1v-5h1v31h1v-23h1v14h1v-34h1v51h1v-45h1v37h1v-44h1v36h1v-29h1v35h1v-34h1v16h1v29h1v-37h1v9h1v44h1v-61h1v9h1v59h1v-5h1v-43h1v62h1v-35h1v-25h1v-7h1v63h1v-49h1v21h1v-44h1v82h1v-24h1v27h1v-9h1v-10h1v32h1v-96h1v25h1v88h1v-126h1v12h1v14h1v78h1v23h1v-45h1v-56h1v-40h1v15h1v-5h1v8h1v2h1v-1h1v8h1v-4h1v6h1v-3h1v-16h1v29h1v-8h1v6h1v9h1v-1h1v-26h1v30h1v-2h1v-6h1v14h1v-18h1v17h1v7h1v-4h1v-31h1v19h1v40h1v-27h1v1h1v-11h1v20h1v-37h1v49h1v-6h1v-2h1v6h1v36h1v-66h1v65h1v33h1v-67h1v-9h1v-7h1v99h1v-24h1v19h1v-148h1v131h1v32h1v6h1v-21h1v22h1v50h1v43h1v-263h1v-3h1v-8h1v16h1v-11h2v-1h1v7h1v12h1v-18h1v4h1v10h1v4h1v-7h1v3h1v2h1v-15h1v29h1v-27h1v14h1v19h1v-5h1v5h1v-18h1v3h1v-10h1v27h1v10h1v-38h1v36h1v5h1v2h1v-25h1v44h1v-65h1v7h1v-1h1v69h1v6h1v12h1v-79h1v35h1v57h1v-18h1v1h1v-10h1v68h1v44h1v140h1v14h1v6h1v-2h1v1h1v-5h1v-17h1v13h1v-22h1v-5h1v27h1v-29h1v15h1v-20h1v29h1v25h1v-37h1v-25h1v41h1v-16h1v-19h1v-26h1v25h1v-43h1v-20h1v6h1v-12h1v41h1v29h1v-103h1v56h1v19h1v-67h1v-7h1v-6h1v-36h1v-27h1V400z"/>
<path fill="#12A04C" d="M0,400v-8h1v-5h1v4h1v1h1v-3h1v3h1v-4h2v3h1v-1h1v-3h1v5h1v-3h1v3h1v-4h1v4h1v-7h1v3h1v3h1v-3h1v-5h1v8h1v-5h1v-10h1v9h1v-3h1v2h1v-10h1v12h1v1h1v-4h1v4h2v1h1v-18h1v7h1v2h1v-2h1v12h1v-23h1v-18h1v-2h1v9h1v2h1v2h1v-1h2v-6h1v9h1v26h1v-23h1v16h1v-5h1v7h1v-18h1v-16h1v-116h1v158h1v2h1v-5h1v5h1v-11h1v9h1v-15h1v16h1v-15h1v16h1v-16h1v14h1v-23h1v19h1v-8h1v5h1v-17h1v13h1v-12h1v5h1v10h1v-14h1v1h1v20h1v-2h1v-12h1v-33h1v23h1v14h1v9h1v3h1v-1h1v-31h1v12h1v-5h1v-8h1v30h1v-12h1v12h1v-29h1v-1h1v-33h1v37h1v-51h1v-65h1v132h1v-61h1v51h1v-22h1v-6h1v7h1v-15h1v26h1v-37h1v36h1v-7h1v-301h1v-2h1v-28h1v37h1v-22h1v24h1v2h1v-29h1v-3h1v40h1v2h1v-8h1v5h1v-28h1v34h1v-5h1v17h1v-15h1v8h1v-7h1v15h1v-24h1v26h1v12h1v1h1v-68h1v65h1v-8h1v-3h1v24h1v-9h1v-23h1v-18h1v46h1v-9h1v17h1v6h1v-39h1v-16h1v35h1v35h1v-38h1v8h1v-33h1v51h1v17h1v7h1v-8h1v18h1v-10h1v-91h1v18h1v95h1v-26h1v-70h1v50h1v16h1v50h1v-67h1v-59h1v310h1v12h1v-7h1v5h1v1h1v-4h1v6h1v-6h1v4h1v-6h1v-17h1v26h1v-10h1v4h1v7h1v-3h1v-29h1v27h1v-4h1v-10h1v12h1v-22h1v15h1v3h1v-8h1v-34h1v14h1v36h1v-32h1v-4h1v-16h1v15h1v-43h1v44h1v-12h1v-8h2v31h1v-73h1v59h1v27h1v-74h1v-16h1v-14h1v91h1v-32h1v11h1v-156h1v122h1v24h1v-3h1v-30h1v14h1v42h1v35h1v-364h1v-2h1v4h1v5h1v-2h1v-8h1v14h1v-9h1v10h1v-14h1v13h1v4h1v3h1v1h1v1h1v3h2v2h2v3h1v3h1v-2h1v4h1v2h1v5h1v-1h1v-1h1v8h1v4h1v5h2v3h1v6h1v4h1v-17h1v14h1v11h1v14h1v1h1v12h1v-12h1v1h1v36h1v2h1v-4h1v42h1v24h1v15h1v147h1v-2h1v3h1v-4h1v16h1v-20h1v19h1v-21h1v-6h1v17h2v-12h1v-7h1v-17h1v33h1v12h1v-5h1v-59h1v60h1v-10h1v2h1v-54h1v29h1v9h1v22h1v-24h1v-28h1v-23h1v65h1v-96h1v89h1v-44h1v34h1v-11h1v-116h1v-12h1v-34h1V400z"/>
<path fill="#A32897" d="M0,400v-8h4v-2h1v3h2v-2h1v2h2v-1h1v1h2v-1h1v-3h1v3h1v1h1v-2h1v2h1v-3h1v1h1v1h1v-5h1v-1h1v7h1v-2h1v1h1v1h1v-4h1v3h1v-5h1v4h1v1h1v-3h1v2h1v2h1v-5h1v2h1v2h1v-5h1v-18h1v19h1v-6h1v-15h1v25h1v-1h1v-16h1v-16h1v33h1v-1h1v-15h1v10h1v-1h1v5h1v1h1v-21h1v18h1v3h1v2h1v-3h1v2h2v1h1v-16h1v16h1v-1h1v1h1v-3h1v1h1v-1h1v2h1v-1h1v1h1v-2h1v-3h1v-5h1v7h1v1h1v1h1v-1h1v2h1v-1h2v-29h1v7h1v17h1v3h1v3h2v-8h1v4h1v-1h1v2h1v1h1v-4h1v3h1v-8h1v-13h1v-27h1v47h1v-1h1v-7h1v11h1v-70h1v51h1v16h1v-21h1v-13h1v17h1v11h1v-13h1v-6h1v5h1v-318h1v2h1v2h1v3h1v2h1v2h1v3h1v2h1v3h1v2h1v2h1v3h1v2h1v2h1v3h1v2h1v2h1v3h1v2h1v2h1v2h1v2h1v2h1v2h1v2h1v2h1v2h1v2h1v2h1v2h1v2h1v3h1v2h1v2h1v2h1v3h1v2h1v3h1v3h1v2h1v3h1v3h1v3h1v2h1v3h1v4h1v3h1v3h1v3h1v3h1v3h1v3h1v4h1v4h1v5h1v5h1v6h1v10h1v13h1v14h1v146h1v6h1v-1h2v5h1v-2h2v1h1v-1h1v2h1v-13h1v11h1v3h1v-1h2v1h1v-32h1v29h1v-6h1v-8h1v15h1v-17h1v10h1v-3h1v5h1v-21h1v23h1v5h1v-17h1v-18h1v-20h1v47h1v-8h1v11h1v-31h1v17h1v-5h1v-5h1v-22h1v33h1v14h1v-83h1v74h1v10h1v-15h1v4h1v10h1v-168h1v108h1v43h1v-39h1v48h1v1h1v-21h1v31h1v-3h1v-2h1v2h1v4h1v-3h1v-9h1v13h1v-11h1v9h1v-15h1v12h1v2h1v3h1v-1h2v1h1v-1h2v-1h1v1h2v-4h1v2h2v2h1v-3h1v-4h1v5h1v1h1v1h1v-3h1v-1h1v2h1v-1h1v-21h1v10h1v6h1v8h1v-6h1v6h1v-21h1v-7h1v26h1v-9h1v-17h1v24h1v1h1v-5h1v-5h1v13h1v-2h1v-6h1v8h3v-14h1v12h1v2h1v-2h1v2h1v-1h1v-35h1v32h1v3h2v-1h1v-1h1v-4h1v6h1v-1h1v2h1v-17h1v16h1v-13h1v-29h1v24h1v13h1v-70h1v75h1v-11h1v7h1v-24h1v6h1v-38h1v57h1V400z"/>
</svg>
<path d="M22.4,510.0h2.4M22.4,488.6h2.4M22.4,466.8h2.4M22.4,445.1h2.4M22.4,423.7h2.4" stroke="#a9a9a9" stroke-width="0.9" fill="none"/>
<path d="M27.5,511.7H234.9" stroke="#c6c6c6" stroke-width="1" stroke-dasharray="3.2 0.5" fill="none"/>
<svg x="272.70" y="27.10" width="208.80" height="86.60" viewBox="0 0 313 400" preserveAspectRatio="none">
<rect width="313" height="400" fill="#FAA067"/>
<path fill="#0E9CDC" d="M0,400v-382h1v-6h1v31h1v-27h1v10h1v1h1v-13h1v-5h1v14h1v-17h1v22h1v-7h1v7h1v-20h1v17h1v-3h1v44h1v-54h1v-4h1v41h1v-31h1v14h1v-25h1v21h1v-17h1v107h1v-62h1v-31h1v15h1v-32h1v20h1v7h1v-18h1v5h1v52h1v-52h1v9h1v-21h1v18h1v52h1v-69h1v9h1v16h1v-6h1v-20h1v28h1v10h1v-35h1v-3h1v7h1v-9h1v48h1v-40h1v65h1v-23h1v-13h1v15h1v-50h1v33h1v-36h1v7h1v-5h1v11h1v-8h1v5h1v-2h1v-3h1v2h1v-2h1v10h1v-7h1v1h1v-2h1v-1h1v-7h1v4h1v32h1v-33h1v31h1v-29h1v-1h1v-3h1v16h1v-14h1v8h1v-10h1v5h1v14h1v-11h1v51h1v-33h1v-24h1v58h1v-56h1v150h1v-118h1v1h1v-7h1v-16h1v8h1v-9h1v10h1v13h1v-20h1v29h1v24h1v-53h1v-13h1v63h1v-62h1v33h1v-34h1v18h1v-22h1v5h1v1h1v-2h1v-1h1v-3h1v4h1v2h2v7h1v-11h1v4h1v-4h1v4h1v-6h1v3h1v1h1v-4h1v1h2v-1h1v13h1v-12h1v1h1v1h1v-3h1v3h1v-1h1v-1h1v5h1v15h1v-15h2v2h1v-7h1v5h1v12h1v1h1v-17h1v2h1v11h1v6h1v21h1v23h1v-58h1v-4h1v-1h1v-1h1v6h1v28h1v-34h1v12h1v-4h2v-6h1v1h1v5h1v-3h2v28h1v-30h1v-2h1v39h1v-39h2v2h1v2h1v72h1v-72h1v92h1v-23h1v-61h1v26h1v67h1v-77h1v28h1v-26h1v-24h1v3h1v11h1v-19h1v7h1v-3h1v63h1v-68h1v113h1v-103h1v149h1v-157h1v202h1v-196h1v-8h1v2h1v18h1v-16h1v3h1v-1h1v-3h1v2h1v14h1v-6h1v8h1v12h1v-31h1v-1h1v18h1v-6h1v-1h1v29h1v-16h1v18h1v-40h1v26h1v69h1v-83h1v6h1v-19h2v36h1v-36h1v79h1v29h1v-18h1v-59h1v-33h1v4h1v12h1v-9h1v-6h1v9h1v8h1v-14h1v12h1v-13h1v-4h1v47h1v-4h1v-25h1v-5h1v-3h1v78h1v-45h1v-19h1v10h1v-29h1v39h1v10h1v-33h1v-12h1v105h1v-92h1v7h1v38h1v-52h1v-7h1v151h1v-151h1v40h1v174h1v-199h1v260h1v-4h1v-4h1v-4h1v-4h1v-4h1v-4h1v-3h1v-4h1v-4h1v-4h1v-4h1v-4h1v-3h1v-4h1v-4h1v-4h1v-3h1v-4h1v-4h1v-4h1v-4h1v-4h1v-4h1v-4h1v-5h1v-5h1v-5h1v-5h1v-5h1v-6h1v-5h1v-6h1v-5h1v-6h1v-5h1v-6h1v-5h1v-6h1v-5h1V400z"/>
<path fill="#D9EC1E" d="M0,400v-376h1v-3h1v57h1v-61h1v19h1v-5h1v-8h1v-11h1v14h1v-11h1v23h1v17h1v9h1v-11h1v-27h1v33h1v11h1v-53h1v4h1v78h1v-70h1v6h1v6h1v23h1v-50h1v117h1v-51h1v-33h1v21h1v-21h1v45h1v-35h1v-7h1v-26h1v56h1v-32h1v-9h1v-20h1v58h1v8h1v24h1v-84h1v68h1v-53h1v-20h1v21h1v44h1v-35h1v-37h1v69h1v-71h1v96h1v-31h1v83h1v-86h1v-24h1v37h1v-35h1v16h1v-58h1v116h1v-100h1v8h1v-11h1v-1h1v9h1v13h1v-21h1v-9h1v21h1v1h1v-13h1v2h1v23h1v-17h1v-17h1v66h1v-30h1v-7h1v-24h1v9h1v-14h1v83h1v-24h1v-52h1v-9h1v77h1v5h1v-75h1v117h1v-51h1v4h1v-15h1v-45h1v138h1v-45h1v-49h1v19h1v-7h1v29h1v-61h1v-20h1v33h1v-22h1v74h1v35h1v-125h1v87h1v26h1v-111h1v95h1v-94h1v51h1v-62h1v-2h1v-1h1v2h1v-2h1v3h1v-3h1v-2h1v4h1v6h1v-12h1v8h1v-1h1v-2h1v2h1v-5h1v2h1v7h1v-10h2v12h2v-3h1v-13h1v1h1v14h1v2h1v-11h1v-5h1v21h2v-3h1v12h1v4h1v2h1v-1h1v-7h1v10h1v3h1v-35h1v51h1v-37h1v44h1v36h1v13h1v8h1v-122h1v7h1v1h1v25h1v-33h1v15h1v9h1v23h1v-32h1v8h1v7h1v-25h1v31h1v-2h1v-28h1v8h1v31h1v-43h1v37h1v-12h1v7h1v60h1v-55h1v68h1v-30h1v43h1v-46h1v35h1v-70h1v23h1v-25h1v-4h1v-8h1v134h1v-112h1v-38h1v79h1v13h1v-94h1v108h1v-36h1v133h1v-198h1v203h1v-67h1v212h2v16h1v-18h1v1h1v-3h1v-5h2v12h1v-8h1v6h1v9h1v-34h1v-4h1v14h1v-12h1v-9h1v21h1v-26h1v8h1v-50h1v15h1v58h1v-93h1v-5h1v-30h1v-11h1v24h1v-49h1v67h1v17h1v-30h1v-71h1v-165h1v5h1v3h1v-8h1v6h1v-1h1v7h1v-7h1v3h1v20h1v-36h1v46h1v-4h1v-23h1v-6h1v-3h1v79h1v-31h1v44h1v-62h1v-34h1v48h1v14h1v25h1v-76h1v107h1v57h1v-104h1v12h1v56h1v-131h1v148h1v-141h1v110h1v97h1v-198h1v262h1v54h1v-49h1v69h1v-56h1v44h1v-86h1v63h1v4h1v-10h1v33h1v21h1v-22h1v-39h1v-30h1v8h2v-24h1v-10h1v65h1v-10h1v-36h1v18h1v-25h1v-42h1v-19h1v113h1v24h1v-11h1v-4h1v23h1v5h1v-122h1v52h1v4h1v60h1v-59h1v-92h1v21h1v42h1V400z"/>
<path fill="#FBA0DE" d="M0,400v-370h1v-7h1v57h1v-58h1v15h1v-5h1v-1h1v-17h1v14h1v-13h1v25h1v18h1v13h1v-12h1v-33h1v35h1v10h1v-53h1v6h1v79h1v-67h1v1h1v9h1v31h1v-59h1v114h1v-39h1v-36h1v13h1v-16h1v41h1v-23h1v-9h1v-35h1v56h1v-28h1v-3h1v-32h1v59h1v36h1v-6h1v-85h1v69h1v-44h1v-26h1v31h1v32h1v-31h1v-37h1v70h1v-76h1v121h1v-37h1v70h1v-89h1v-25h1v35h1v-14h1v-3h1v-59h1v124h1v-107h1v5h1v-5h1v-8h1v9h1v15h1v-22h1v-6h1v20h1v5h1v-19h1v3h1v21h1v-15h1v-16h1v63h1v-27h1v-9h1v-25h1v19h1v-23h1v95h1v-28h1v-49h1v-21h1v81h1v5h1v-59h1v123h1v-77h1v11h1v-18h1v-45h1v138h1v-15h1v-71h1v16h1v-11h1v30h1v-65h1v-18h1v53h1v-44h1v85h1v35h1v-123h1v73h1v26h1v-111h1v106h1v-86h1v80h1v259h1v-3h1v-1h1v2h1v-3h1v3h1v-3h1v-3h1v4h1v7h1v-13h1v8h1v-1h1v-3h1v2h1v-5h1v1h1v7h1v-10h1v-1h1v11h2v-4h1v-13h1v-1h1v13h2v-13h1v-8h1v18h1v-3h1v-7h1v8h2v-2h1v-6h1v-12h1v5h1v-4h1v-43h1v41h1v-48h1v33h1v24h1v1h1v-3h1v-344h1v-3h1v2h1v36h1v-21h1v21h1v-11h1v13h1v2h1v-16h1v29h1v-20h1v2h1v15h1v7h1v-21h1v39h1v-78h1v44h1v31h1v-13h1v31h1v-41h1v65h1v-17h1v21h1v-48h1v49h1v-70h1v48h1v-59h1v103h1v-114h1v128h1v-114h1v-4h1v75h1v-9h1v70h1v-64h1v28h1v69h1v-170h1v193h1v-51h1v176h1v10h1v4h1v-7h1v-9h1v-3h1v-1h1v-3h1v22h1v-14h1v1h1v9h2v-38h1v23h1v-11h1v11h1v7h1v-36h1v5h1v-35h1v8h1v60h1v-56h1v-42h1v-13h1v-26h1v48h1v-10h1v-7h1v35h1v-41h1v-49h1v-190h1v-3h1v12h1v8h1v-14h1v-6h1v7h1v-7h1v5h1v34h1v-40h1v34h1v-1h1v-6h1v-15h1v39h1v28h1v-26h1v43h1v-23h1v-4h1v-23h1v24h1v27h1v35h1v2h1v44h1v-43h1v7h1v9h1v13h1v23h1v-159h1v95h1v107h1v-37h1v88h1v63h1v-50h1v62h1v-27h1v15h1v-61h1v39h1v2h1v-8h1v32h1v18h1v-18h1v-37h1v-5h1v-15h1v-6h1v-7h1v-9h1v72h1v-36h1v-35h1v26h1v-22h1v-52h1v-5h1v109h1v16h1v-12h2v26h1v-4h1v-117h1v51h1v28h1v34h1v-54h1v-13h1v-62h1v60h1V400z"/>
<path fill="#12A04C" d="M0,400v-325h1v-9h1v17h1v-1h1v-17h1v16h1v-37h1v58h2v-3h1v-16h1v18h1v5h1v12h1v-22h1v8h1v15h1v-75h1v68h1v1h1v-17h1v40h1v-2h1v-48h1v46h1v4h1v-20h1v-25h1v36h1v-42h1v64h1v-57h1v-9h1v67h1v-53h1v54h1v-5h1v-54h1v50h1v-10h1v7h1v3h1v11h1v-16h1v40h1v-17h1v-53h1v52h1v30h1v-13h1v16h1v-18h1v-2h1v17h1v7h1v-10h1v-32h1v31h1v-7h1v74h1v-90h1v214h1v1h1v-8h1v-12h1v5h1v11h1v-27h1v-9h1v16h1v1h1v-24h1v-1h1v17h1v-19h1v-21h1v58h1v-32h1v-14h1v-30h1v13h1v-29h1v88h1v-35h1v-55h1v-28h1v73h1v-1h1v-66h1v117h1v-83h1v4h1v-23h1v-50h1v134h1v-21h1v-74h1v10h1v-14h1v26h1v-70h1v-21h1v49h1v-47h1v81h1v31h1v-126h1v69h1v23h1v-116h1v103h1v-90h1v76h1v156h1v-3h1v-3h1v2h1v-2h1v2h1v-1h1v-3h1v2h1v6h1v-10h1v5h1v2h1v-3h1v2h1v-6h1v4h1v2h1v-1h1v-9h1v11h1v1h1v-3h1v-6h1v-10h1v17h1v-4h1v-13h1v-8h1v24h1v-9h1v-7h1v9h1v4h1v-3h1v6h1v-28h1v15h1v-7h1v-9h1v8h1v-48h1v47h1v6h1v-2h1v3h1v-340h1v9h1v-16h1v33h1v-2h1v6h1v-9h1v7h1v11h1v8h1v2h1v-20h1v28h1v-6h1v-3h1v-16h1v37h1v-42h1v4h1v28h1v22h1v9h1v1h1v16h1v-20h1v33h1v-57h1v56h1v-72h1v91h1v-92h1v108h1v4h1v11h1v-41h1v24h1v-51h1v83h1v11h1v-14h1v-48h1v74h1v-57h1v68h1v6h1v132h1v-4h1v7h1v-11h1v-7h1v10h1v-10h1v-6h1v20h2v-9h1v8h1v-2h1v-38h1v27h1v7h1v-1h1v1h1v-22h1v-6h1v23h2v6h1v-9h1v-85h1v53h1v-20h1v56h1v-38h1v-63h1v89h1v-71h1v-70h1v-188h1v-10h1v12h1v16h1v-11h1v-10h1v9h1v22h1v-31h1v33h1v-43h1v37h1v2h1v27h1v-52h1v72h1v-2h1v16h1v23h1v-25h1v25h1v-75h1v46h1v25h1v68h1v-38h1v34h1v-38h1v1h1v73h1v-23h1v21h1v-27h1v53h1v-3h1v11h1v108h1v-9h1v-47h1v55h1v-26h1v18h1v-51h1v52h1v-18h1v10h1v9h1v14h1v-15h1v-19h1v1h1v-30h1v5h1v-26h1v-2h1v76h1v-48h1v-33h1v28h1v-9h1v-22h1v-3h1v65h1v21h1v-15h2v28h1v-11h1v-54h1v59h1v-43h1v37h1v-48h1v-17h1v-23h1v31h1V400z"/>
<path fill="#A32897" d="M0,400v-324h1v-3h1v10h2v6h1v3h1v-9h1v20h1v1h1v6h1v3h2v4h1v3h1v3h2v5h2v-11h1v17h1v-32h1v36h1v-3h1v-31h1v32h1v3h1v-21h1v-16h1v44h1v-35h1v39h1v2h1v-25h1v28h1v-32h1v31h1v-6h1v18h1v-19h1v23h1v-6h1v-2h1v12h1v-7h1v14h1v2h1v2h1v-22h1v27h1v-12h1v15h1v-12h1v16h1v-6h1v16h1v-15h1v-8h1v39h1v17h1v18h1v-57h1v181h1v-3h1v-4h1v-2h1v2h1v5h1v-22h1v12h1v17h1v-29h1v-7h1v-7h1v35h1v-50h1v39h1v4h1v-6h1v17h1v6h1v-36h1v35h1v-15h1v-21h1v-76h1v45h1v20h1v15h1v7h1v19h1v-81h1v27h1v4h1v-66h1v89h1v-20h1v2h1v-55h1v27h1v39h1v-19h1v13h1v37h1v-46h1v-30h1v23h1v-118h1v122h1v-17h1v-47h1v80h1v-132h1v100h1v78h1v-1h1v1h1v-4h1v1h1v1h1v-1h1v1h1v3h1v-1h1v-4h1v2h1v-1h1v-1h1v1h1v-6h1v5h1v2h2v-10h1v9h1v1h1v-2h1v1h1v-10h1v13h1v-6h1v-13h1v12h1v6h1v-8h1v-2h2v4h1v6h1v-3h1v-4h2v-15h1v-8h1v13h1v15h1v-3h1v-6h1v-10h1v3h1v-332h1v3h1v11h1v4h1v3h1v2h1v2h1v6h1v4h1v4h1v3h2v7h1v3h1v1h1v8h1v1h1v-41h1v50h1v8h1v-5h1v13h1v3h1v11h1v-17h1v29h1v-6h1v10h1v-30h1v44h1v-42h1v58h1v6h1v10h1v-4h1v16h1v2h1v4h1v11h1v-11h1v20h1v6h1v8h1v4h1v10h1v118h2v4h1v-4h1v-14h1v16h1v1h1v-22h1v19h2v-3h1v1h1v4h1v-20h1v20h1v2h1v-12h1v1h1v-19h1v24h1v-6h1v-4h1v15h1v-15h1v8h1v-2h1v-34h1v39h1v-16h1v-69h1v83h1v-66h1v-52h1v115h1v-14h1v9h1v14h1v-14h1v-13h1v7h1v18h1v-35h1v31h1v-48h1v33h1v-4h1v21h1v-62h1v62h1v-14h1v3h1v10h1v-38h1v13h1v-87h1v37h1v16h1v59h1v-47h1v25h1v-46h1v-6h1v64h1v-30h1v12h1v-35h1v46h1v-11h1v2h1v28h1v-13h1v-49h1v56h1v-27h1v18h1v-49h1v60h1v-28h1v10h1v19h1v3h1v-14h1v-15h1v10h1v-31h1v-8h1v-16h1v-7h1v72h1v-48h1v-28h1v27h1v-7h1v-14h2v52h1v24h1v-16h1v-4h1v26h1v-8h1v-57h1v63h1v-40h1v31h1v-41h1v-20h1v-13h1v35h1V400z"/>
<path fill="#F52D69" d="M0,400v-323h1v4h1v3h1v4h1v4h1v4h1v3h1v4h1v4h1v3h1v4h1v3h1v3h1v3h1v2h1v2h1v3h1v2h1v1h1v2h1v2h1v2h1v1h1v2h1v1h1v2h1v2h1v1h1v2h1v2h1v2h1v2h1v1h1v2h1v2h1v2h1v2h1v2h1v2h1v2h1v2h1v2h1v3h1v2h1v2h1v2h1v3h1v2h1v2h1v3h1v2h1v3h1v2h1v4h1v4h1v4h1v7h1v10h1v14h1v15h1v14h1v112h1v6h1v-4h1v-1h1v1h1v-2h1v-24h1v22h1v7h1v-6h1v8h1v-7h1v2h1v-5h1v9h1v-1h1v-8h1v9h1v1h1v-27h1v28h1v-16h2v15h1v-9h1v-19h1v27h1v-13h1v11h1v-56h1v54h2v-58h1v56h1v-15h1v-20h1v25h1v2h1v-23h1v2h1v31h1v3h1v-12h1v-1h1v5h1v2h1v-13h1v18h1v-29h1v9h1v-74h1v59h1v39h1v-1h1v1h2v-1h1v-1h1v2h1v-2h1v2h2v-3h1v3h2v-1h1v1h2v-3h1v2h2v-1h3v1h1v1h1v-9h1v8h1v-5h1v5h1v-1h2v-7h1v4h1v4h5v-5h1v-12h1v-3h1v18h1v1h2v-1h1v2h1v-18h1v11h1v-1h1v8h3v-1h1v-2h1v3h4v-3h1v3h2v-4h1v4h1v-3h1v-45h1v45h1v3h1v-10h1v8h1v-3h1v5h1v-23h1v23h1v-13h1v4h1v-36h1v37h1v-48h1v51h2v4h1v-9h1v9h1v-3h1v-3h1v6h1v-17h1v14h2v2h1v-2h1v4h2v-1h1v1h1v-4h1v2h2v1h1v-3h1v1h1v4h1v-2h1v-2h1v2h1v-12h1v13h2v-1h1v-4h1v-21h1v22h1v-6h1v-1h1v11h1v-10h1v9h2v-19h1v18h1v-17h1v15h1v3h1v-1h1v-105h1v106h1v2h1v-12h1v11h1v-9h1v8h1v-13h1v12h1v1h1v-3h1v-46h1v50h1v-22h1v21h1v1h1v-1h1v1h1v-2h2v-18h1v-4h1v24h1v-71h1v44h1v26h1v-10h1v-6h1v-48h1v5h1v59h1v-18h1v18h1v-50h1v47h1v-16h1v6h1v12h1v-2h1v-48h1v49h1v-14h1v1h1v4h1v11h1v-35h1v32h1v-1h1v6h1v-3h1v-30h1v31h1v-30h1v-28h1v-16h1v44h1v25h1v-26h1v27h1v-6h1v-26h1v27h1v-5h1v3h1v9h1v-17h1v4h1v16h1v-4h1v-13h1v15h1v-5h1v1h1v-25h1v-32h1v15h1v44h1V400z"/>
</svg>
<path d="M268.1,113.4h2.4M268.1,92.0h2.4M268.1,70.4h2.4M268.1,48.8h2.4M268.1,27.5h2.4" stroke="#a9a9a9" stroke-width="0.9" fill="none"/>
<path d="M273.2,115.1H481.0" stroke="#c6c6c6" stroke-width="1" stroke-dasharray="3.2 0.5" fill="none"/>
<svg x="272.70" y="126.30" width="208.80" height="86.70" viewBox="0 0 313 400" preserveAspectRatio="none">
<rect width="313" height="400" fill="#FAA067"/>
<path fill="#0E9CDC" d="M0,400v-370h1v-21h2v3h1v18h1v-23h1v3h1v-1h1v7h1v-9h1v13h1v1h1v-12h1v-2h1v1h1v3h1v-1h1v4h1v8h1v-14h1v2h1v14h1v-17h1v6h1v14h1v-9h1v3h1v-4h1v15h1v-14h1v-7h1v3h1v-7h1v42h1v-30h1v15h1v-17h1v-11h1v7h2v93h1v-69h1v-31h1v43h1v-37h1v-5h1v43h1v9h1v-37h1v-14h2v48h1v-36h1v8h1v10h1v-14h1v-13h1v2h1v-4h1v6h1v-3h3v9h1v5h1v-5h1v-3h1v-1h1v-6h1v4h1v8h1v-17h1v5h1v19h1v-23h2v23h1v-22h2v6h1v6h1v-14h1v30h1v-16h1v-8h2v8h1v-13h1v14h1v4h1v15h1v-32h1v9h1v41h1v-19h1v-24h1v7h1v15h1v-30h1v8h1v27h1v46h1v-54h1v2h1v-28h1v48h1v-40h1v43h1v-21h1v16h1v-4h1v-44h1v2h1v6h1v-3h1v-5h2v17h1v-16h1v6h1v-5h1v14h1v-16h1v1h1v-1h3v4h1v2h1v5h1v-9h1v-1h3v4h1v-3h1v-1h1v7h1v18h1v-23h1v30h1v-16h1v-4h1v-8h1v28h1v-9h1v-11h1v-12h1v1h1v6h1v9h1v-16h1v1h2v33h1v-30h1v7h1v-2h2v-7h1v-2h1v31h1v1h1v-31h1v-2h1v2h1v2h1v-3h1v2h1v14h1v-4h1v-9h1v-4h1v57h1v-48h1v-7h1v9h1v-9h1v30h1v2h1v-10h1v-9h1v-10h1v-3h1v1h1v-2h1v18h1v-15h1v-3h1v-1h1v55h1v-8h1v69h1v-110h1v-4h1v14h1v-10h1v7h1v1h1v-10h1v2h2v-5h1v13h1v-14h1v6h1v9h1v-15h1v10h1v-10h1v23h1v-23h1v25h1v-21h1v10h1v-11h2v4h2v59h1v-66h1v6h1v10h1v-10h1v5h1v8h1v-4h1v-14h1v-1h1v30h1v-8h1v-19h1v2h1v-5h1v4h1v-4h1v18h1v-17h2v-1h1v1h1v-1h1v24h1v28h1v-46h1v-4h1v11h1v-8h1v-4h1v5h1v4h1v-9h1v1h1v8h1v21h1v-30h1v110h1v-14h1v-67h1v-17h1v-9h1v-4h1v7h1v8h1v-9h1v6h1v-3h1v15h1v-20h1v1h1v34h1v-27h1v20h1v-24h1v1h1v-6h1v39h1v-38h1v89h1v32h1v9h1v-94h1v-35h1v18h1v-19h1v168h1v-106h1v46h1v-22h1v272h1v-5h1v-6h1v-5h1v-5h1v-5h1v-6h1v-6h1v-6h1v-8h1v-8h1v-10h1v-12h1v-14h1v-16h1v-16h1v-18h1v-17h1v-17h1v-16h1v-16h1v-15h1v-16h1v-15h1V400z"/>
<path fill="#D9EC1E" d="M0,400v-367h1v-20h1v5h1v1h1v13h1v-24h1v11h1v9h1v-2h1v-18h1v26h2v-20h1v14h1v-17h1v9h1v-9h1v7h1v9h1v-13h1v30h1v-17h1v10h1v5h1v-13h1v-9h1v13h1v-14h1v14h1v23h1v-26h1v53h1v-67h1v43h1v-30h1v10h1v-4h1v-27h1v25h1v-16h1v117h1v18h1v-76h1v-18h1v-8h1v-20h1v65h1v-25h1v-44h1v-14h1v3h1v83h1v-65h2v22h1v-29h1v61h1v-71h1v10h1v-10h1v-1h2v-1h1v21h1v-1h1v4h1v-18h1v14h1v-20h1v26h1v-15h1v-9h2v24h1v-31h1v34h1v-6h1v-15h1v-9h1v9h1v38h1v-49h1v29h1v24h1v-4h1v-38h1v6h1v71h1v-51h1v-19h1v41h1v-56h1v18h1v30h1v-21h1v-3h1v38h1v-23h1v-9h1v4h1v-1h1v100h1v-106h1v19h1v-48h1v54h1v61h1v-50h1v-10h1v30h1v-24h1v-67h1v2h1v6h1v-3h1v-4h1v4h1v13h1v-14h1v4h1v-6h1v15h1v-16h1v14h1v-14h1v8h1v-7h1v7h1v5h1v-1h1v-9h1v10h1v-7h1v4h1v-5h1v1h1v-5h1v24h1v19h1v-40h1v40h1v4h1v-25h1v-17h1v32h1v9h1v-16h1v-10h1v-18h1v50h1v-8h1v-24h1v7h1v-19h1v33h1v-34h1v11h1v-7h1v32h1v-38h1v16h1v17h1v8h1v14h1v-14h1v-1h1v-20h1v-25h1v8h1v36h1v-27h1v5h1v40h2v-49h1v19h1v-15h1v-10h1v35h1v10h1v26h1v-61h1v1h1v72h1v-66h1v-21h1v65h1v-9h1v-48h1v41h1v101h1v-83h1v48h1v33h1v-130h1v80h1v-92h1v25h1v344h1v-13h1v1h1v-3h1v-7h1v11h1v-16h1v3h1v7h1v-19h1v6h1v-14h1v17h1v-29h1v17h1v-30h1v2h1v-20h1v-8h1v-5h1v-9h1v50h1v-75h1v-5h2v-19h1v-6h1v-2h1v-14h1v-24h1v-12h1v20h1v-18h1v-157h1v16h1v-23h1v12h1v-3h1v16h1v-19h1v1h1v-2h1v30h1v-16h1v23h1v16h1v-46h1v-5h1v31h1v-27h1v6h1v3h1v16h1v-22h1v52h1v-21h1v68h1v-77h1v81h1v-9h1v-67h1v-27h1v-10h1v-4h1v9h1v17h1v-7h1v53h1v-51h1v4h2v20h1v-4h1v10h1v5h1v67h1v-114h1v56h1v16h1v-6h1v19h1v40h1v20h1v-101h1v-12h1v-19h1v1h1v152h1v-77h1v15h1v47h1v208h1v-12h1v-5h1v-3h1v5h1v-18h1v8h1v-16h1v25h1v-36h1v-2h1v-17h1v28h1v-25h1v-37h1v12h1v-42h1v-22h1v-5h1v68h1v-68h1v-31h1v-44h1v-12h1V400z"/>
<path fill="#FBA0DE" d="M0,400v-361h1v3h1v-13h1v-5h1v14h1v-22h1v24h1v9h1v-12h1v7h1v22h1v-1h1v-43h1v35h1v-6h1v27h1v-23h1v12h1v-22h1v30h1v-18h1v37h1v-51h1v21h1v-27h1v14h1v-5h1v88h1v-24h1v-43h1v-33h1v75h1v-86h1v61h1v95h1v-47h1v-53h1v77h1v-94h1v69h1v13h1v14h1v-41h1v-28h1v-20h1v138h1v-50h1v-28h1v-71h1v111h1v12h1v-18h1v53h1v-171h1v116h1v40h1v-75h1v-109h1v14h1v-6h1v3h1v-1h1v19h1v-5h1v-4h1v14h1v-29h1v26h1v-29h1v32h1v7h1v-42h1v1h1v31h1v-35h1v54h1v-25h1v55h1v-56h1v-10h1v34h1v-52h1v36h1v23h1v-10h1v-22h1v50h1v18h1v-50h1v4h1v28h1v-68h1v12h1v57h1v82h1v-95h1v48h1v-62h1v61h1v-52h1v5h1v86h1v-112h1v26h1v-64h1v60h1v113h1v-77h1v-33h1v94h1v9h1v-159h1v-13h1v7h1v4h1v-11h1v7h1v13h1v-2h1v14h1v-30h1v14h1v-11h1v11h1v-2h1v-7h1v-5h1v17h1v8h1v-1h1v-20h1v40h1v-5h1v-31h1v-3h1v25h1v-3h1v12h1v10h1v-5h1v18h1v7h1v-7h1v-40h1v16h1v16h1v-21h1v-13h1v5h1v40h1v-5h1v-40h1v18h1v-26h1v111h1v-53h1v-51h1v-1h1v28h1v-33h1v8h1v20h1v17h1v15h1v1h1v-28h1v-15h1v7h1v28h1v-7h1v-2h1v-31h1v40h1v8h1v6h1v-38h1v3h1v-34h1v47h1v11h1v39h1v-42h1v39h1v16h1v8h1v-29h1v-21h1v25h1v-83h1v32h1v111h1v-69h1v95h1v15h1v-152h1v86h1v-20h1v-63h1v320h1v-13h1v3h1v-3h1v-6h1v9h1v-15h1v2h1v18h1v-30h1v6h1v-15h1v23h1v-33h1v18h1v-30h2v-9h1v-14h1v-8h1v29h1v14h1v-78h1v10h1v-16h1v-15h2v-5h1v-16h1v-20h1v18h1v47h1v-82h1v-152h1v13h1v-25h1v28h1v7h1v16h1v17h1v-28h2v12h1v21h2v-12h1v12h1v56h1v-48h1v-68h1v125h1v-43h1v-40h1v125h1v-58h1v-69h1v62h1v-70h1v113h1v23h1v84h2v-14h1v-6h1v7h1v14h1v-10h1v50h1v-53h1v2h1v-4h1v18h1v-7h1v6h1v2h1v63h1v-117h1v51h1v12h1v-11h1v14h1v35h1v14h1v-106h1v-18h1v-24h1v-5h1v146h1v-82h1v9h1v42h1v78h1v-1h1v-8h1v8h1v5h1v-39h1v5h1v-11h1v34h1v-49h1v6h1v-22h1v71h1v-69h1v53h1v-78h1v-31h1v94h1v-121h1v94h1v-104h1v41h1v-114h1v18h1V400z"/>
<path fill="#12A04C" d="M0,400v-358h1v8h1v-20h1v15h1v-5h1v-16h1v25h1v7h1v4h1v6h1v2h1v7h1v-47h1v37h1v5h1v14h1v-16h1v13h1v-7h1v5h1v20h1v-1h1v11h1v-30h1v-3h1v-15h1v55h1v25h1v7h1v-30h1v24h1v20h1v-24h1v-50h1v92h1v-43h1v-45h1v88h1v-3h1v-13h2v3h1v-39h1v50h1v-20h1v54h1v-14h1v-29h1v-56h1v103h1v-20h1v42h1v-2h1v-173h1v163h1v-12h1v-58h1v-118h1v-1h1v-2h1v13h1v8h1v-6h1v6h1v-4h2v-24h1v23h1v26h1v-24h1v11h1v30h1v-7h1v-12h1v14h1v-17h1v22h1v20h1v-45h1v34h1v-29h1v67h1v-45h1v-4h1v-26h1v75h1v16h1v-27h1v-45h1v77h1v-25h1v45h1v-4h1v-70h1v73h1v36h1v-79h1v-44h1v93h1v-91h1v98h1v18h1v-48h1v-35h1v91h1v-123h1v117h2v-7h1v-16h1v39h1v-199h1v-2h1v1h1v-4h1v-8h1v-2h1v13h1v6h1v7h1v-10h2v6h1v-9h1v2h1v-7h1v-10h1v21h1v3h1v-2h1v-20h1v40h1v2h1v-7h1v-5h1v4h1v-10h1v15h1v8h1v-6h1v17h1v12h1v2h1v-48h1v14h1v23h1v-26h1v51h1v-60h1v42h1v12h1v-33h1v67h1v-102h1v113h1v-17h1v-9h1v-5h1v268h1v-36h1v5h1v17h1v14h1v12h1v-2h1v-31h1v-17h1v3h1v25h1v-10h1v-5h1v-35h1v37h1v5h1v2h1v-42h1v-1h1v-38h1v43h1v5h1v34h1v-47h1v32h1v11h1v2h1v-36h1v-27h1v17h1v-90h1v24h1v104h1v-76h1v86h1v8h1v-161h1v76h1v-30h1v-73h1v207h2v-12h1v-1h1v-8h1v18h1v-11h1v-6h1v13h1v-31h1v17h1v10h1v-11h1v-34h1v47h1v1h1v-37h1v-6h1v38h1v-72h1v40h1v-6h1v24h1v-44h1v61h1v-97h1v-32h1v39h1v-12h1v-69h1v80h1v54h1v4h1v-323h1v21h1v-21h1v22h1v1h1v17h1v16h1v-3h1v-21h1v7h1v23h1v10h1v-6h1v-2h1v59h1v-18h1v-3h1v29h1v-28h1v28h1v41h1v-19h1v-107h1v103h1v11h1v83h1v-72h1v83h1v11h1v-16h1v-13h1v3h1v44h1v-37h1v48h1v-49h2v8h1v20h1v-15h1v42h1v-34h1v61h1v-121h1v49h1v30h1v-26h1v39h1v13h1v8h1v-91h1v-25h1v6h1v-16h1v123h1v-46h1v-31h1v47h1v77h1v-2h1v-3h1v7h1v-3h1v2h1v-30h1v-16h1v39h1v-51h1v8h2v48h1v-49h1v30h1v-68h1v-13h1v76h1v-88h1v99h1v-34h2v-150h2V400z"/>
<path fill="#A32897" d="M0,400v-15h1v5h1v-22h1v12h1v-7h1v-18h1v22h1v5h1v1h1v4h1v-1h1v4h1v-50h1v33h1v2h1v10h1v-20h1v8h1v-12h2v14h1v-7h1v6h1v-37h1v-9h1v-20h1v49h1v19h1v2h1v-35h1v19h1v15h1v-28h1v-54h1v88h1v-47h1v-49h1v84h1v-8h1v-17h1v-4h2v-43h1v46h1v-25h1v51h1v-19h1v-33h1v-60h1v97h1v-24h1v37h1v-6h1v-178h1v159h1v-18h1v-62h1v-226h1v1h1v-2h1v12h1v9h1v-3h1v8h1v-6h1v-4h1v-22h1v26h1v28h1v-29h1v18h1v20h1v-6h1v-11h1v15h1v-18h1v22h1v24h1v-47h1v44h1v-36h1v63h1v-38h1v-12h1v-25h1v77h1v21h1v-28h1v-47h1v75h1v6h1v11h1v3h1v-74h1v73h1v31h1v-73h1v-10h1v55h1v-89h1v97h1v35h1v-59h1v-32h1v86h1v-127h1v139h1v14h1v-4h1v-48h1v41h1v-207h1v-5h1v5h1v-7h1v7h1v-18h1v18h1v1h1v6h1v-9h1v9h1v-1h1v2h1v-11h1v-7h1v-11h1v30h1v-5h1v-2h1v-14h1v33h1v2h1v-5h1v2h1v-5h1v5h1v16h1v-6h1v-4h1v23h1v4h1v1h1v-15h1v6h1v-3h1v-24h1v57h1v-67h1v86h1v-27h1v-36h1v72h1v-110h1v146h1v1h1v-57h1v-3h1v270h1v-12h1v-24h1v33h1v3h1v5h1v-1h1v-10h1v-35h1v44h1v-19h1v-4h1v15h1v-54h1v30h1v7h1v12h1v-15h1v-25h1v-18h1v46h1v3h1v6h1v-27h1v33h1v-17h1v2h1v5h1v-26h1v22h1v-135h1v115h1v13h1v-36h1v44h1v11h1v-79h1v7h1v-34h1v-43h1v165h1v-2h1v-12h1v7h1v-12h1v18h1v-15h1v-2h1v10h1v-31h1v31h1v1h1v-10h1v-21h1v28h1v2h1v-24h1v-17h1v38h1v-35h1v1h1v2h1v28h1v-54h1v58h1v-91h1v69h1v-68h1v-4h1v-72h1v115h1v24h1v6h1v-327h1v13h1v-8h1v18h1v-8h1v20h1v12h2v-18h1v19h1v7h1v21h1v-17h1v32h1v27h1v11h1v-15h1v17h1v-14h1v9h1v42h1v-6h1v-23h1v29h1v54h1v14h1v-68h1v80h1v20h1v-22h1v-3h1v-10h1v47h1v-20h1v27h1v51h1v-26h1v-61h1v22h1v16h1v10h1v-37h1v86h1v-115h1v15h1v55h1v8h1v-15h1v11h1v35h1v-109h1v72h1v-27h1v-83h1v117h1v-22h1v41h1v10h1v13h1v2h1v-3h1v4h1v-3h1v1h1v-6h1v-30h1v29h1v-6h1v-34h1v27h1v23h1v-36h1v17h1v-9h1v-35h1v54h1v-38h1v30h1v-30h1v3h1v-84h1v-14h1V400z"/>
<path fill="#F52D69" d="M0,400v-10h1v2h1v-22h1v20h1v2h1v-4h1v-6h1v8h1v-3h1v3h1v1h1v1h1v-18h1v8h1v-1h1v6h1v3h1v-3h1v-20h1v10h1v-1h1v11h1v-8h1v-31h1v35h1v-71h1v49h1v28h1v-8h1v-18h1v14h1v9h1v-7h1v-60h1v70h1v-17h1v-5h1v7h1v-7h1v-14h1v26h1v-2h1v-17h2v1h1v19h1v-12h1v-22h1v-27h1v46h1v-30h1v48h1v-5h1v-12h1v-10h1v7h1v4h1v15h1v-2h1v-6h1v9h1v5h1v-6h1v5h1v-10h1v-7h1v-26h1v22h1v24h1v-32h1v15h1v15h1v-10h1v-14h1v9h1v-21h1v17h1v19h1v-53h1v39h1v-42h1v57h1v-44h1v-18h1v-31h1v71h1v15h1v-34h1v-52h1v69h2v6h1v-2h1v-80h1v68h1v26h1v-78h1v-16h1v49h1v-94h1v92h1v30h1v-65h1v-37h1v81h1v-133h1v134h1v9h1v-9h1v-54h1v36h1v-293h1v-4h1v5h1v-8h1v9h1v-12h1v11h1v1h1v6h1v-10h1v11h1v-2h1v3h1v-6h1v-14h1v-8h1v29h1v-7h1v3h1v-10h1v25h1v2h1v-3h1v5h1v-7h1v14h1v4h1v-1h1v-10h1v24h1v4h1v5h1v4h1v-17h1v4h1v-31h1v62h1v-61h1v75h1v1h1v-63h1v78h1v-106h1v138h1v8h1v-59h1v-3h1v263h1v-9h1v-27h1v35h1v1h1v4h1v-2h1v-2h1v-11h1v15h1v-21h1v-4h1v16h1v-14h1v-2h1v21h1v-9h1v-15h1v-4h1v24h1v-17h1v21h1v-5h1v4h1v-7h1v-9h1v8h1v-9h1v8h1v-11h1v13h1v-30h1v12h1v26h1v-14h1v16h1v-83h1v14h1v-37h1v-44h1v153h1v-2h1v-12h1v10h1v1h1v2h1v-14h1v-3h1v17h1v-37h1v33h2v-9h1v-23h1v35h1v1h1v-12h1v-30h1v39h1v-39h1v3h1v19h1v6h1v-26h1v30h1v-67h1v50h1v-52h2v-84h1v105h1v29h1v13h1v-336h1v10h1v-3h1v14h1v2h1v17h1v4h1v2h1v15h1v-6h1v5h1v25h1v-6h1v19h1v15h1v11h1v-6h1v24h1v-27h1v32h1v24h1v-7h1v26h1v6h1v22h1v13h1v-62h1v86h1v33h1v-47h1v-3h1v-6h1v71h1v-48h1v31h1v57h1v-19h1v-66h1v16h1v12h1v16h1v-28h1v70h1v-115h1v52h1v62h1v-30h1v-17h1v37h1v6h1v-109h1v88h1v15h1v-76h1v50h1v-7h1v37h1v5h1v10h1v-2h1v-2h1v4h2v-1h1v-5h1v-5h1v2h1v-3h1v-33h1v25h1v20h1v-28h1v15h1v-14h1v-19h1v40h1v-40h1v31h1v-12h1v-5h1v-73h1v25h1V400z"/>
<path fill="#14EA30" d="M0,400v-9h1v1h1v-2h1v1h1v1h2v-3h1v2h1v1h1v1h1v-1h1v1h1v-15h1v13h2v1h1v1h1v-2h1v-4h1v5h1v-2h1v-1h1v1h1v-6h1v7h1v-2h1v-3h1v6h3v-7h1v7h1v-3h1v-2h1v3h1v2h1v-8h1v7h2v-14h1v10h1v4h1v1h1v-1h2v-3h1v2h1v-23h1v16h1v8h2v-5h1v3h1v-4h1v6h1v1h1v-1h1v1h3v-2h1v3h1v-3h1v2h1v-4h1v3h1v-3h1v4h2v-2h3v2h1v-1h1v1h1v-6h1v5h1v1h2v-4h1v-11h1v14h1v1h1v-1h1v1h1v-3h1v-1h1v2h1v2h1v-3h2v2h1v-19h1v13h1v7h1v-1h1v-3h1v-1h1v-2h1v-7h1v-2h2v14h1v-8h1v-10h1v11h1v-13h1v19h1v-5h1v-56h1v63h1v-355h1v1h1v1h1v1h1v1h1v1h1v1h1v1h2v1h1v1h1v1h1v2h1v1h1v1h1v1h1v2h1v1h1v2h1v1h1v2h1v2h1v3h1v2h1v3h1v4h1v3h1v4h1v3h1v4h1v5h1v4h1v5h1v4h1v5h1v6h1v6h1v7h1v7h1v8h1v9h1v10h1v11h1v16h1v20h1v20h1v19h1v143h1v-1h1v-2h1v-2h1v2h1v4h1v-1h2v-5h1v4h1v-2h1v-9h1v5h1v5h1v2h1v-3h1v-1h1v-15h1v18h1v-5h1v5h2v2h1v-1h1v-8h1v-7h1v7h1v-8h1v16h1v-1h1v-1h1v2h1v-6h1v5h1v-4h1v3h1v-32h1v19h1v9h1v-107h1v113h2v1h1v-1h3v1h1v-14h1v13h1v-10h1v6h1v4h1v-10h1v10h1v-1h2v-9h1v-29h1v37h1v-38h1v32h1v-4h1v1h1v-9h1v20h2v-15h1v-17h1v-7h1v38h1v-13h1v11h1v1h1v-2h1v2h1v-9h1v7h1v-5h1v9h1v-2h1v-6h1v7h1v-14h1v-3h1v18h1v-15h1v10h1v5h1v1h1v-16h1v13h1v-38h1v22h1v12h1v-17h1v15h1v-6h1v11h2v-74h1v75h1v-8h1v6h1v-13h1v15h1v2h1v1h1v-1h1v-1h1v-2h1v-9h1v-17h1v17h1v-5h1v15h1v-4h1v6h1v-18h1v18h1v-22h1v20h1v-3h1v5h1v-3h1v-5h1v3h1v-32h1v14h1v16h1v7h1v-7h1v8h1v-3h1v2h1v-1h2v1h1v-1h1v-3h1v5h1v-2h1v-7h1v8h2v-25h1v22h1v3h1v-3h1v1h1v-22h1v19h1v4h1v1h1v-6h1v-33h1V400z"/>
</svg>
<path d="M268.1,212.7h2.4M268.1,191.3h2.4M268.1,169.7h2.4M268.1,148.0h2.4M268.1,126.7h2.4" stroke="#a9a9a9" stroke-width="0.9" fill="none"/>
<path d="M273.2,214.4H481.0" stroke="#c6c6c6" stroke-width="1" stroke-dasharray="3.2 0.5" fill="none"/>
<svg x="272.70" y="225.40" width="208.80" height="86.50" viewBox="0 0 313 400" preserveAspectRatio="none">
<rect width="313" height="400" fill="#FAA067"/>
<path fill="#0E9CDC" d="M0,400v-393h1v11h1v2h1v-13h1v-1h1v1h1v-1h1v7h1v-4h1v-3h1v3h1v8h1v-3h1v-3h1v-5h1v4h1v-1h1v5h1v-6h1v2h1v-4h1v15h1v-15h1v11h1v-10h1v1h1v1h1v31h1v-12h1v-16h1v30h1v-34h1v1h1v31h1v-30h1v8h1v-9h1v12h1v3h1v-16h1v57h1v-39h1v-11h1v4h1v-8h1v7h1v-5h1v7h1v-5h1v-4h1v-5h1v3h1v-1h1v29h1v-25h1v9h1v-9h1v1h1v9h1v-16h1v3h1v9h1v-8h1v3h1v24h1v-25h1v14h1v-7h2v7h1v-19h1v7h1v-8h1v7h1v50h1v-49h1v13h1v-3h1v-1h1v42h1v15h1v-73h1v90h1v-62h1v-18h1v-10h1v14h1v-11h1v-2h1v33h1v-8h1v-25h1v1h1v79h1v-57h1v-3h1v-13h1v-6h1v-1h1v4h1v23h1v-28h2v9h1v-7h1v-3h1v12h1v-10h1v27h1v-29h1v14h1v23h1v-9h1v-24h1v43h1v-19h1v-10h1v-10h1v4h1v29h1v-29h1v48h1v-2h1v-21h1v43h1v-56h1v-18h1v22h1v11h1v-31h1v83h1v-40h1v-48h1v23h1v1h1v65h1v277h1v-7h1v-8h1v-7h1v-8h1v-8h1v-7h1v-7h1v-7h1v-6h1v-6h1v-5h1v-5h1v-5h1v-5h1v-4h1v-5h1v-4h1v-5h1v-4h1v-4h1v-5h1v-5h1v-5h1v-6h1v-6h1v-6h1v-7h1v-8h1v-8h1v-8h1v-9h1v-8h1v-9h1v-9h1v-10h1v-9h1v-8h1v-9h1v-113h1v-1h1v1h1v3h1v2h1v-5h2v-3h1v1h1v8h1v-2h1v-5h1v14h1v-16h1v12h1v10h1v-21h2v6h1v5h1v-12h1v11h1v-4h1v21h1v21h1v-49h1v51h1v-45h1v77h1v-65h1v-9h1v109h1v-110h1v11h1v16h1v-35h1v9h1v11h1v-18h1v4h1v6h1v-12h1v12h1v30h1v-38h1v24h1v-27h1v1h1v43h1v-4h1v-39h1v27h1v-25h2v24h1v-28h1v91h1v-42h1v-30h1v59h1v-64h1v-5h1v19h1v8h1v-7h1v-25h2v-5h1v9h1v-7h1v9h1v-7h1v-2h1v-1h1v23h1v1h1v-24h1v7h1v8h1v-12h1v3h1v11h1v-14h1v4h1v-1h1v83h1v-57h1v-7h1v10h1v-35h1v8h1v-6h1v8h1v-2h1v-3h1v7h1v-13h1v1h1v2h1v-3h1v26h1v-13h1v-12h1v23h1v-19h1v5h1v11h1v1h1v-3h1v-17h1v4h1v14h1v-13h1v-5h1v2h1v6h1v-10h1v4h2v13h1v17h1v-33h1v2h1v-1h1v-1h1v32h1v-30h1v-2h1v5h1v12h1v-2h1v-16h1v10h1v23h1v-26h1v116h1v-105h1v28h1V400z"/>
<path fill="#D9EC1E" d="M0,400v-387h1v5h1v3h1v-14h1v1h1v1h1v-2h1v14h1v-3h1v-11h1v2h1v11h1v-5h1v-4h1v-4h1v5h1v-1h1v10h1v-13h1v7h1v-5h1v11h1v-15h1v19h1v-17h1v1h1v8h1v23h1v-11h1v-15h1v31h1v-35h1v2h1v30h1v-31h1v15h1v-13h1v18h1v27h1v-38h1v54h1v-41h1v-16h1v18h1v-22h1v6h1v-3h1v4h1v-3h1v-6h1v-5h1v5h1v-3h1v29h1v-24h1v8h1v-2h1v-5h1v26h1v-33h1v4h1v23h1v-21h1v20h1v5h1v-24h1v13h1v-4h1v-3h1v20h1v-28h1v20h1v-25h1v11h1v46h1v-36h1v3h1v-2h1v11h1v30h1v14h1v-74h1v88h1v-59h1v63h1v-89h1v14h1v-12h1v19h1v24h1v5h1v-54h1v3h1v131h1v-109h1v34h1v-53h1v-5h1v2h2v24h1v-28h2v13h1v-12h1v-1h1v12h1v3h1v12h1v-26h1v24h1v13h1v-12h1v-16h1v35h1v-18h1v-8h1v-13h1v8h1v27h1v-28h1v63h1v-15h1v-22h1v45h1v-60h1v-4h1v25h1v-6h1v-14h1v70h1v-43h1v-34h1v44h1v-35h1v108h1v233h1v-3h1v-11h1v-5h1v-12h1v19h1v-21h1v-20h1v14h1v-23h1v3h1v-11h1v-3h1v49h1v-49h1v-14h1v-12h1v21h1v-24h1v64h1v-78h1v4h1v6h1v-10h1v-4h1v-21h1v23h1v-36h1v-7h1v27h1v-18h1v-11h1v-23h1v-16h1v104h1v-112h1v-13h1v-18h1v76h1v-190h1v-9h1v6h2v-2h1v5h1v-3h1v-5h1v-2h1v12h1v-2h1v-11h1v14h1v-3h1v-1h1v12h1v-17h1v-3h1v20h1v1h1v-17h1v4h1v-3h1v22h1v31h1v-50h1v61h1v-63h1v108h1v-74h1v-26h1v109h1v-86h1v25h1v-18h1v-43h1v13h1v11h1v-26h1v4h1v5h1v23h1v-16h1v28h1v-38h1v19h1v-27h1v4h1v43h1v1h1v-30h1v14h1v-27h1v21h1v2h1v-18h1v91h1v-39h1v-43h1v64h1v-68h1v37h1v-22h1v24h1v-24h1v-24h1v9h1v3h1v-2h1v7h1v-2h1v-14h1v14h1v12h1v12h1v-6h1v-24h1v16h1v2h1v-21h1v11h1v22h1v-36h1v51h1v-42h1v89h1v36h1v-88h1v-16h1v-17h1v17h1v-37h1v14h1v-4h1v6h1v-2h1v-18h1v1h1v42h1v-43h1v35h1v-12h1v-21h1v23h1v-18h1v3h1v50h1v-31h1v-10h1v-16h1v18h1v13h1v-26h1v2h1v59h1v291h1v-13h1v1h1v-4h1v10h1v14h1v-35h1v-2h1v-5h1v-4h1v27h1v-34h1v-8h1v-2h1v2h1v-14h1v-30h1v-6h1v7h1v-43h1v99h1v-121h1v12h1V400z"/>
<path fill="#FBA0DE" d="M0,400v-387h1v8h2v2h1v-14h1v2h1v5h1v5h2v-8h1v1h1v6h1v-3h1v10h1v-8h1v-6h1v1h1v9h1v-8h1v1h2v11h2v6h1v-15h1v-3h1v3h1v23h1v-9h1v-18h1v37h1v-10h1v-7h1v21h1v-32h1v38h1v-21h1v-9h1v29h1v32h1v-13h1v38h1v-35h1v39h1v6h1v-107h1v-3h1v4h1v2h1v-7h1v-7h1v3h1v2h1v29h1v-29h1v18h1v-12h1v1h1v39h1v-51h1v7h1v26h1v-8h1v3h1v13h1v-1h1v54h1v-78h1v2h1v15h1v-25h1v20h1v58h1v-14h1v2h1v-37h1v-10h1v45h1v-19h1v93h1v-45h1v-98h1v88h1v-46h1v68h1v-82h1v-12h1v8h1v16h1v10h1v7h1v-46h1v65h1v68h1v-14h1v-50h1v-60h1v-14h1v-2h1v3h1v20h1v-17h1v-13h1v12h1v-10h1v-2h1v15h1v1h1v10h1v-24h1v23h1v13h1v-12h1v-11h1v30h1v-17h1v-1h1v-20h1v8h1v26h1v-24h1v59h1v-16h1v-8h1v39h1v-61h1v-9h1v24h1v22h1v-36h1v70h1v-22h1v-16h1v8h1v-45h1v130h1v213h1v-1h1v-15h2v-10h1v25h1v-16h1v-18h1v5h1v15h1v-20h1v33h1v-55h1v32h1v-41h1v-16h1v23h1v13h1v-38h1v46h1v-64h1v41h1v-41h2v-2h1v-12h1v-3h1v25h1v-4h1v-23h1v3h1v-24h1v-18h1v89h1v41h1v-146h1v73h1v-5h1v14h1v93h1v-11h1v4h1v-1h1v-2h1v3h1v-4h1v-6h1v-3h1v10h1v-3h1v-13h1v12h1v-5h1v-3h1v10h1v-20h1v-7h1v15h1v-8h1v-27h1v-7h1v-16h1v9h1v18h1v-65h1v49h1v-76h1v94h1v-88h1v-41h1v94h1v-101h1v10h1v-142h1v-43h1v13h1v11h1v-26h1v4h1v5h1v23h1v-16h1v28h1v-38h1v19h1v-27h1v4h1v43h1v1h1v-30h1v14h1v-27h1v21h1v2h1v-18h1v91h1v-39h1v-43h1v64h1v-68h1v37h1v-22h1v24h1v-23h1v-22h1v10h1v-1h1v-1h1v27h1v-17h1v-13h1v16h1v5h1v10h1v-3h1v-27h1v30h1v-10h1v-21h1v12h1v22h1v-34h1v48h1v-43h1v91h1v45h1v-95h1v-17h1v-19h1v41h1v-52h1v9h1v-10h1v6h1v10h1v-27h1v2h1v40h1v-42h1v37h1v-14h1v-22h1v25h1v-18h1v1h1v55h1v-32h1v-3h1v8h1v1h1v-7h1v-24h2v62h1v290h1v-9h1v2h1v-11h1v13h1v12h1v-36h1v-1h1v-4h1v1h1v21h1v-26h1v3h1v-21h1v6h1v-10h1v-33h1v-6h1v11h1v-28h1v75h1v-65h1v-30h1V400z"/>
<path fill="#12A04C" d="M0,400v-386h1v7h1v1h1v1h1v2h1v-10h1v11h1v-1h1v-4h1v4h1v-6h1v4h1v6h1v-1h1v-9h1v7h1v-9h1v8h1v-9h1v11h2v4h1v-1h1v5h1v-3h1v8h1v-9h1v11h1v-6h1v5h1v15h1v1h1v3h1v-4h1v13h1v-6h1v-1h1v31h1v-25h1v31h1v12h1v9h1v12h1v3h1v15h1v-125h1v-4h1v1h1v16h1v-16h1v18h1v-28h1v16h1v16h1v-27h1v26h1v32h2v-6h1v-39h1v18h1v2h1v-9h1v25h1v25h1v-37h1v52h1v-74h1v60h1v11h1v-74h1v15h1v55h1v-16h1v5h1v-40h1v-7h1v60h1v-33h1v90h1v-46h1v-75h1v70h1v-27h1v47h1v-80h1v2h1v-11h1v34h1v91h1v-84h1v-36h1v69h1v58h1v-19h1v-33h1v-85h1v1h1v-12h1v-2h1v26h1v-11h1v-24h1v18h1v-14h1v-4h1v23h1v-4h1v13h1v-16h1v18h1v4h1v2h1v-25h1v39h1v-23h1v-4h1v-13h1v3h1v22h1v-19h1v59h1v-10h1v-17h1v38h1v-42h1v-27h1v91h1v-18h1v-49h1v56h1v-18h1v-7h1v64h1v-26h1v45h1v208h1v-1h1v8h1v-14h1v15h1v-7h1v-5h1v-2h1v-10h1v8h1v-2h1v11h1v-54h1v35h1v-41h1v7h1v-4h1v11h1v-31h1v61h1v-75h1v47h1v-20h1v17h1v-48h1v8h1v14h1v-1h1v25h1v-63h1v20h1v-2h1v-28h1v97h1v2h1v-89h1v66h1v-60h1v23h1v88h1v-16h1v3h1v14h1v-15h1v4h1v11h1v-24h1v-3h1v15h2v-6h1v8h1v-2h1v-9h1v6h1v-4h1v-26h1v17h1v-7h1v-11h1v-20h1v17h1v-31h1v39h1v-79h1v58h1v8h1v20h1v-98h1v-17h1v60h1v-54h1v46h1v-224h1v-50h1v13h1v16h1v-22h1v35h1v-12h1v22h1v-36h1v41h1v-43h1v49h1v-61h1v2h1v45h1v41h1v-26h1v-29h1v-14h1v14h1v-5h1v-17h1v96h1v-50h1v-42h1v95h1v-97h1v75h1v-34h1v24h1v-54h1v-17h1v19h1v15h1v-31h1v41h1v-28h1v-10h1v18h1v12h1v-1h1v-4h1v45h1v-30h1v18h1v-17h1v-24h1v24h1v2h1v64h1v-22h1v22h1v30h1v-90h1v12h1v-19h1v65h1v231h1v5h1v-12h1v3h1v7h1v-29h1v-1h1v37h1v-45h1v32h1v-18h1v-27h1v19h1v-27h1v-10h1v43h1v-45h1v-17h1v-6h1v-13h1v-20h1v-38h1v-13h1v48h1v138h1v7h1v-7h1v-19h1v17h1v3h1v-17h1v-16h1v24h1v-28h1v29h1v-18h1v2h1v26h1v-49h1v-15h1v-16h1v26h1v-36h1v13h1v33h1v-57h1v63h1V400z"/>
<path fill="#A32897" d="M0,400v-17h1v7h2v1h2v-10h1v11h1v-2h1v-4h1v3h1v-6h1v3h1v5h1v-1h1v-9h1v6h1v-10h1v7h1v-9h1v9h1v-1h1v3h1v-2h1v4h1v-4h1v6h1v-12h1v8h1v-9h2v11h1v-3h1v-3h1v-10h1v8h1v-11h1v-8h1v24h1v-34h1v22h1v1h1v-2h2v-8h1v5h1v-343h1v-5h1v1h1v16h1v-15h1v17h1v-27h1v16h1v18h1v-26h1v23h1v31h2v-5h1v-40h1v18h1v5h1v-9h1v23h1v24h1v-34h1v49h1v-74h1v61h1v11h1v-74h1v14h1v55h1v-15h1v5h1v-39h1v-2h1v54h1v-33h1v90h1v-45h1v-76h1v76h1v-33h1v57h1v-89h1v16h1v-27h1v34h1v101h1v-93h1v-37h1v84h1v54h1v-28h1v-18h1v-91h1v-9h1v-8h1v-7h1v26h1v-10h1v-18h1v16h1v-14h1v-5h1v20h1v6h1v2h1v-10h1v13h1v4h1v2h1v-15h1v28h1v-10h1v-1h1v-3h1v-14h1v15h1v-18h1v60h1v-13h1v2h1v33h1v-55h1v30h1v74h1v-54h1v-41h1v76h1v-50h1v28h1v36h1v-32h1v43h1v208h1v4h1v3h1v-10h1v10h1v-4h1v-7h1v-3h1v-10h1v14h1v-7h1v11h1v-49h1v30h1v-28h1v14h1v-20h1v7h1v-21h1v56h1v-68h1v41h1v-25h1v19h1v-44h1v10h1v5h2v24h1v-53h1v85h1v-63h1v9h1v53h1v1h1v-84h1v57h1v-45h1v24h1v70h1v-15h1v1h1v14h1v-12h1v2h1v16h1v-9h1v-14h1v11h1v-4h3v-1h1v-9h1v23h1v-16h1v-27h1v17h1v-8h1v9h1v-21h1v-4h1v-9h1v16h1v-79h1v60h1v12h1v44h1v-113h1v1h1v39h1v-62h1v58h1v-241h1v-50h1v13h1v16h1v-22h1v35h1v-12h1v22h1v-36h1v41h1v-43h1v49h1v-61h1v2h1v45h1v41h1v-26h1v-29h1v-14h1v14h1v-5h1v-17h1v96h1v-50h1v-42h1v95h1v-97h1v75h1v-34h1v24h1v-54h1v-17h1v19h1v15h1v-31h1v41h1v-28h1v-10h1v18h1v12h1v-1h1v-4h1v45h1v-30h1v18h1v-17h1v-24h1v24h1v2h1v64h1v-22h1v22h1v30h1v-90h1v12h1v-19h1v65h1v233h1v15h1v3h1v-11h2v10h1v-22h1v19h1v-34h1v24h1v-26h1v-14h1v7h1v-5h1v-33h1v54h1v-45h1v-25h1v11h1v37h1v-40h1v-32h1v-59h1v58h1v117h1v9h1v-8h1v-18h1v26h1v-5h1v-19h1v-5h1v14h1v-11h1v11h1v-18h1v10h1v18h1v-50h1v-7h1v-22h1v33h1v23h1v-53h1v35h1v-57h1v60h1V400z"/>
<path fill="#F52D69" d="M0,400v-17h1v7h2v1h1v1h1v-6h1v6h1v-1h1v-5h1v3h1v-6h1v4h1v5h1v-1h1v-9h1v9h1v-10h1v4h1v-3h1v4h1v-2h1v3h1v-1h1v3h1v-5h1v7h1v-7h1v2h2v-5h1v8h1v-4h1v1h1v-13h1v7h1v-2h1v-17h1v26h1v-30h1v20h1v-2h2v-2h2v-2h1v-341h1v-7h1v11h1v5h1v-9h1v11h1v-4h1v3h1v20h1v-37h1v27h1v26h1v3h1v3h1v-50h1v22h1v5h1v-4h1v18h1v20h1v-9h1v31h1v-78h1v57h1v11h1v-69h1v26h1v79h1v5h1v-26h1v1h1v-65h1v83h1v-64h1v87h1v-8h1v-67h1v67h1v-39h1v66h1v-130h1v25h1v-32h1v97h1v66h1v-113h1v-34h1v131h1v39h1v-73h1v-17h1v245h1v-11h1v-10h1v-8h1v24h1v-12h1v-19h1v14h1v-15h1v-6h1v19h1v4h1v1h1v-13h1v12h1v2h2v-18h1v26h1v-12h1v-5h1v-6h1v-18h1v11h1v-26h1v51h1v-24h1v-10h1v21h1v-67h1v17h1v63h1v-65h1v-52h1v65h1v-61h1v17h1v26h1v-44h1v33h1v98h1v-4h1v4h1v-10h1v13h1v-6h1v-8h1v-1h1v-7h1v15h1v-13h1v18h1v-49h1v38h1v-13h1v-14h1v-18h1v3h1v-19h1v57h1v-64h1v39h1v-27h1v25h1v3h1v-2h1v-19h1v-18h1v22h1v-22h1v65h1v-72h1v49h1v12h1v1h1v-43h1v19h1v-41h1v28h1v57h1v-12h1v7h1v6h1v-3h1v-7h1v16h1v-9h1v6h1v-4h1v3h1v-9h1v-2h1v9h1v-20h1v22h1v-13h1v-3h1v-9h1v-3h1v24h1v-8h1v-12h1v-19h1v28h1v-82h1v74h1v6h1v12h1v-76h1v-9h1v62h1v-107h1v68h1v-239h1v15h1v4h1v-17h1v13h1v9h1v-28h1v18h1v14h1v-30h1v37h1v2h1v8h1v6h1v-43h1v30h1v7h1v-20h1v24h1v14h1v18h1v-2h1v-8h1v5h1v46h1v-5h1v-82h1v130h1v-46h1v33h1v-187h1v-3h1v3h1v12h1v-10h1v23h1v-3h1v12h1v-16h1v16h1v3h1v4h1v16h1v-2h1v12h1v-28h1v39h1v6h1v4h1v9h1v23h1v12h1v14h1v-62h1v13h1v98h1v-29h1v164h1v7h1v3h1v-11h1v5h1v8h1v-25h1v18h1v-23h1v26h1v-34h1v-17h1v14h1v7h1v-6h1v7h1v-32h1v14h1v-41h1v37h1v-18h1v32h1v-137h1v157h1v22h1v-5h1v-3h1v-13h1v20h1v-4h1v-23h1v11h1v-3h1v-6h1v19h1v-12h1v2h1v9h1v-36h1v-12h1v-15h1v19h1v22h2v-4h1v-2h1v27h1V400z"/>
<path fill="#14EA30" d="M0,400v-16h1v7h1v-1h1v1h1v1h1v-3h1v4h1v-2h2v-2h1v-2h2v5h1v-1h1v-3h1v4h1v-8h1v3h1v4h1v-5h1v3h1v-2h1v2h1v2h3v-3h1v3h1v-5h1v5h1v-2h1v-3h1v1h1v-11h1v5h1v9h1v2h1v-1h1v-32h1v23h1v9h1v-15h1v4h1v8h1v-8h1v-347h1v4h2v7h1v-2h1v7h1v1h1v7h1v7h1v3h1v-7h1v17h1v4h1v4h1v-1h1v-15h1v16h1v16h1v-23h1v26h1v-8h1v22h1v2h1v-12h1v25h1v1h1v6h1v2h1v9h1v3h1v-30h1v23h1v11h1v16h1v-1h1v-9h1v-14h1v7h1v2h1v29h1v17h1v-1h1v7h1v-31h1v32h1v-13h1v21h1v-19h1v48h1v-85h1v102h1v119h1v-5h1v-7h1v-15h1v22h1v-8h1v-16h1v9h1v-5h1v-17h1v26h1v-3h1v2h1v-13h1v21h1v-5h1v-1h1v-12h1v28h1v-16h1v-2h1v4h1v-35h1v14h1v-22h1v59h1v-31h1v-19h1v26h1v-74h1v20h1v62h1v-32h1v-70h1v101h1v-74h1v-2h1v11h1v-36h1v22h1v97h1v1h1v-2h1v-3h1v6h1v-6h1v-3h1v-4h1v-1h1v12h1v3h1v-4h1v-23h1v16h1v-4h1v-26h1v1h1v36h1v-2h1v-10h1v-56h1v50h1v-27h1v39h1v-31h1v39h1v-46h1v47h1v-21h1v-13h1v25h1v2h1v-6h1v1h1v-6h1v9h1v-5h1v-73h1v28h1v54h1v3h1v1h1v1h1v-7h1v2h1v6h1v-2h1v1h1v-2h1v1h1v1h1v-14h1v12h1v-18h1v19h1v-6h1v-8h1v-12h1v-3h1v25h1v-4h1v-12h1v2h1v11h1v-2h1v-15h1v9h1v10h1v-75h1v-7h1v84h1v-13h1v-1h1v-278h1v7h1v4h1v-2h1v7h2v-3h1v-2h1v11h1v-2h1v9h1v4h1v-1h1v10h1v-35h1v27h1v22h1v-10h1v4h1v22h1v12h1v-8h2v10h1v29h1v5h1v-45h1v79h1v-8h1v-1h1v145h1v-7h1v-1h1v8h1v-14h1v19h1v-6h1v7h1v-19h1v12h1v-2h1v-2h1v12h1v-9h1v6h1v-36h1v31h1v-3h1v-6h1v-1h1v12h2v3h1v-76h1v-3h1v80h1v-46h1v40h1v2h1v5h1v-6h1v-1h1v7h1v-23h1v24h1v-2h1v-3h1v-11h1v11h1v-3h1v5h1v-38h1v35h1v-11h1v14h1v-19h1v1h1v-4h1v-15h1v33h1v3h1v3h1v-5h2v5h1v1h1v-5h1v-22h1v19h1v8h1v-23h1v22h2v-14h1v10h1v-21h1v15h1v-4h1v-2h1v-2h1v-1h1v-1h1v7h1v13h1V400z"/>
<path fill="#3C42EB" d="M0,400v-11h1v3h1v-2h1v3h2v-4h1v4h1v-1h1v1h2v-6h1v2h1v3h1v1h1v-1h1v1h1v-5h1v4h2v-4h1v4h2v-2h1v2h3v-2h1v1h1v2h1v-2h1v-2h1v-2h1v2h1v3h1v1h1v-1h3v-1h1v-3h1v5h1v-3h1v-2h1v1h1v-1h1v2h2v-4h1v4h1v-6h1v3h1v-3h1v4h1v3h1v-1h1v-11h1v13h1v1h1v-1h1v-4h1v-19h1v11h1v12h1v-28h1v22h1v-12h1v18h1v-3h1v-17h1v20h1v-3h1v2h1v-3h1v4h1v-2h1v-34h1v18h1v6h1v11h1v-5h1v-14h1v-19h1v2h1v-3h1v24h1v12h1v-5h1v1h1v-36h1v26h1v-19h1v16h1v-25h1v42h1v-92h1v95h1v-4h1v5h1v-11h1v11h1v1h1v-20h1v-16h1v27h1v-21h1v16h1v2h1v1h1v-9h1v-14h1v18h1v-3h1v12h1v6h1v-5h1v-16h1v8h1v4h1v7h1v2h1v-5h1v4h1v-33h1v25h1v-18h1v-31h1v36h1v20h1v-13h1v-9h1v16h1v-20h1v26h1v-11h1v-6h2v20h2v-2h1v1h1v-1h1v-3h1v4h2v1h1v-1h1v1h1v-2h1v-23h1v21h1v-3h1v1h1v5h2v-3h1v-1h1v-7h1v4h1v-38h1v45h1v-5h1v4h1v-2h1v2h1v-16h1v-1h1v12h1v2h1v2h1v-10h1v3h1v8h1v-9h1v9h1v-2h1v1h1v-1h1v4h2v-9h1v3h1v6h1v-2h2v2h1v-2h2v-7h1v6h1v-12h1v13h1v-1h1v-8h1v9h1v1h1v-2h2v-19h1v18h1v2h1v1h1v-3h1v3h1v-1h1v-25h1v13h1v11h1v-3h1v-10h1v-276h1v3h1v3h1v2h1v3h1v2h1v3h1v2h1v3h1v3h1v3h1v3h1v3h1v4h1v4h1v4h1v6h1v6h1v7h1v8h1v8h1v9h1v9h1v10h1v9h1v11h1v11h1v12h1v13h1v12h1v116h1v-9h1v-6h1v9h1v-16h1v21h1v-7h1v7h1v-19h1v11h1v1h1v2h1v5h1v-6h1v4h1v-3h1v5h1v-4h1v1h1v-8h1v11h1v-3h1v3h1v-55h1v43h1v12h1v-11h1v5h1v1h1v5h1v-7h1v3h1v3h1v-11h1v12h2v-4h1v4h6v-12h1v11h1v-8h1v-10h1v19h1v-37h1v37h1v-3h1v3h1v-3h1v3h1v-1h1v1h1v-2h1v2h3v-1h1v1h2v-10h1v7h1v-8h1v3h1v7h1v-4h1v-7h1v-3h1v-3h1v8h1v10h1V400z"/>
</svg>
<path d="M268.1,311.6h2.4M268.1,290.3h2.4M268.1,268.6h2.4M268.1,247.0h2.4M268.1,225.8h2.4" stroke="#a9a9a9" stroke-width="0.9" fill="none"/>
<path d="M273.2,313.3H481.0" stroke="#c6c6c6" stroke-width="1" stroke-dasharray="3.2 0.5" fill="none"/>
<svg x="272.70" y="324.30" width="208.80" height="86.70" viewBox="0 0 313 400" preserveAspectRatio="none">
<rect width="313" height="400" fill="#FAA067"/>
<path fill="#0E9CDC" d="M0,400v-394h3v5h1v-5h3v8h1v-8h1v3h1v2h1v-5h2v13h1v-13h2v5h1v-4h1v-1h1v2h1v2h1v-2h1v-1h2v1h1v5h1v-6h1v1h1v14h1v-15h1v2h1v5h1v-7h1v9h1v-10h1v1h1v1h1v9h1v-9h2v1h1v-1h1v-2h1v7h1v11h1v-10h1v-6h2v-1h1v27h1v-28h1v18h1v12h1v-8h1v-17h2v2h1v-5h1v2h1v24h1v18h1v-38h1v-1h1v11h1v-9h1v-6h1v11h1v-9h1v10h1v-12h1v66h1v-58h1v15h1v-15h1v12h1v10h1v-5h1v-26h1v99h1v-65h1v-34h1v30h1v43h1v-70h1v2h1v31h1v-32h1v-5h1v6h1v4h1v-2h1v2h1v-10h1v-1h1v7h1v-3h1v1h1v9h1v-7h1v-7h2v16h1v-3h1v-10h1v-2h1v4h1v21h1v-14h1v33h1v-4h1v-33h1v-4h1v-3h1v2h1v15h1v2h1v-16h1v7h1v33h1v23h1v-25h1v31h1v-49h1v-15h1v-9h2v11h1v-11h1v2h1v-2h2v1h1v7h1v5h1v-10h1v-2h1v10h1v-10h1v-1h1v1h1v28h1v-28h1v-1h1v3h1v5h1v8h1v7h1v2h1v-11h1v-13h1v11h1v57h1v-55h1v7h1v88h1v-32h1v49h1v-90h1v-33h1v3h1v2h1v-1h1v-6h1v20h1v-20h1v6h1v-7h1v3h3v-2h1v-1h1v13h1v-11h1v16h1v-11h1v-6h1v7h1v21h1v-26h1v-2h1v27h1v-19h1v7h1v11h1v-25h1v43h1v-30h1v9h1v24h1v-41h1v2h1v-3h1v365h1v-5h1v-4h1v-4h1v-5h1v-4h1v-4h1v-4h1v-4h1v-4h1v-5h1v-5h1v-6h1v-5h1v-7h1v-6h1v-8h1v-10h1v-11h1v-12h1v-13h1v-13h1v-14h1v-14h1v-13h1v-13h1v-13h1v-13h1v-14h1v-133h2v-4h1v6h1v-6h2v5h1v-6h1v14h1v-3h1v16h1v-20h1v-6h1v52h1v-46h1v-4h2v41h1v-43h1v20h1v-17h1v85h1v-70h1v-4h1v-12h1v5h1v2h1v77h1v-69h1v-11h1v3h1v-7h1v12h1v-8h1v30h1v-34h1v13h1v-15h2v16h1v-11h1v-2h1v2h1v4h1v8h1v10h1v-13h1v15h1v-25h1v4h1v4h1v-8h1v-5h1v1h1v1h1v12h1v-11h1v1h1v-2h1v7h1v-2h1v-5h1v10h1v15h1v-18h1v7h1v108h1v-52h1v-59h1v-6h1v-7h2v10h1v-10h1v13h1v-11h1v1h1v16h1v-16h1v3h1v13h1v32h1v-10h1v-37h1v26h1v-10h1v17h1v-34h1v17h1v7h1v-24h1V400z"/>
<path fill="#D9EC1E" d="M0,400v-393h1v1h1v-2h1v5h1v-4h2v-1h1v10h1v-9h1v2h1v2h1v7h1v-10h1v12h1v-14h1v1h1v6h1v-5h1v-1h1v1h1v3h1v10h1v-12h1v1h2v4h1v-6h1v13h1v3h1v-16h1v6h2v2h1v1h1v-10h1v22h1v-15h1v4h1v-7h1v10h1v-10h1v-1h1v4h2v24h1v-18h1v-7h1v-3h1v10h1v25h1v-39h1v28h1v2h1v-7h1v-15h1v5h1v-5h1v3h1v16h1v5h1v15h1v-35h1v9h1v8h1v-6h1v-3h1v6h1v-4h1v30h1v-39h1v56h1v-46h1v4h1v-13h1v36h1v-13h1v21h1v-25h1v74h1v-62h1v-38h1v27h1v42h1v-47h1v-13h1v39h1v-27h1v-27h1v7h1v3h1v-1h1v3h1v-11h1v10h1v-2h1v-2h1v-2h1v8h1v-6h1v-4h1v-3h1v16h1v7h1v-21h1v-2h1v9h1v18h1v-13h1v34h1v-7h1v-33h1v3h1v-8h2v14h1v3h1v21h1v-30h1v41h1v24h1v-26h1v60h1v-80h1v-22h1v-9h2v11h1v-11h1v2h1v-2h2v1h1v7h1v5h1v-10h1v-2h1v10h1v-10h1v-1h1v1h1v28h1v-28h1v-1h1v3h1v5h1v8h1v7h1v2h1v-11h1v-13h1v11h1v57h1v-55h1v7h1v88h1v-32h1v49h1v-90h1v320h1v-1h1v-2h1v-5h1v-9h1v17h1v-24h1v2h1v-10h1v-2h1v-5h1v-5h1v-6h1v-6h1v6h1v-19h1v8h1v-20h1v-15h1v-2h1v11h1v-36h1v-11h1v17h1v-29h1v-2h1v3h1v-34h1v34h1v-39h2v15h1v-49h1v-8h1v-12h1v257h1v-3h1v-10h1v11h1v-18h1v-2h1v-4h1v-3h1v-1h1v-1h1v-2h1v-5h1v25h1v-20h1v-34h1v-7h1v11h1v-30h1v32h1v-52h1v-11h1v-14h1v9h1v-40h1v21h1v-45h1v-12h1v21h1v23h1v-209h2v-4h1v6h1v-6h2v5h1v-6h1v14h1v-3h1v16h1v-20h1v-6h1v52h1v-46h1v-4h2v41h1v-43h1v20h1v-17h1v85h1v-70h1v-4h1v-12h1v5h1v2h1v77h1v-69h1v-11h1v3h1v-7h1v12h1v-8h1v30h1v-34h1v13h1v-15h2v16h1v-11h1v-2h1v2h1v4h1v8h1v10h1v-13h1v15h1v-25h1v4h1v4h1v-8h1v-5h1v1h1v1h1v12h1v-11h1v1h1v-2h1v7h1v-2h1v-5h1v10h1v15h1v-18h1v7h1v108h1v-52h1v-54h1v-5h1v-12h1v2h1v13h1v-13h1v34h1v-10h1v-21h1v15h1v-17h1v2h1v14h1v32h1v7h1v-40h1v34h1v-17h1v18h1v-42h1v25h1v6h1v-37h1V400z"/>
<path fill="#FBA0DE" d="M0,400v-27h2v-4h1v4h1v-7h1v-1h1v-3h1v9h1v-11h3v6h1v-12h1v9h1v-15h1v-1h1v4h1v-7h1v-2h1v-1h2v8h1v-15h1v-1h1v-2h1v1h1v-9h1v11h2v-19h1v3h1v-4h1v-1h1v-3h1v-14h1v17h1v-20h1v-2h1v-14h2v-19h1v-12h1v-8h1v-11h1v14h1v-220h1v-7h1v8h1v-1h1v29h1v-42h1v27h1v3h1v-9h1v-11h1v7h1v5h1v-12h1v19h1v2h1v25h1v-45h1v12h1v11h1v-12h1v-3h1v21h1v-18h1v29h1v-39h1v115h1v-103h1v2h1v28h1v-5h1v47h1v-38h1v-27h1v77h1v-22h1v-31h1v-20h1v54h1v-48h1v-26h1v40h1v-28h1v-27h1v27h1v-15h1v-4h1v5h1v-9h1v7h1v7h1v-5h1v-7h1v9h1v-9h1v-3h1v-2h1v36h1v-14h1v-15h1v17h1v-16h1v19h1v-8h1v31h1v-8h1v-27h1v7h1v52h1v-43h1v-3h1v-7h1v24h1v-24h1v59h1v-2h1v-26h1v74h1v-96h1v-20h1v1h1v-8h1v16h1v3h1v-16h1v4h1v-12h1v21h1v4h1v-12h1v-7h1v23h1v7h1v-8h1v-17h1v42h1v-23h1v-3h1v-27h1v3h1v15h1v19h1v-14h1v41h1v-48h1v16h1v-20h1v58h1v-52h1v5h1v100h1v-23h1v53h1v-117h1v319h1v-1h1v-1h1v-5h1v-5h1v12h1v-21h1v11h1v-19h1v-4h1v2h1v-12h1v-6h1v2h1v-3h1v-18h1v19h1v-31h1v-10h1v1h1v9h1v-42h1v-12h1v32h1v-35h1v33h1v-39h1v-29h1v46h1v-47h1v15h1v3h1v-58h1v-5h1v-16h1v253h1v-2h1v-10h1v10h1v-15h1v-5h2v-7h1v8h1v-8h1v-2h1v12h1v10h1v-21h1v-11h1v-26h1v5h1v-30h1v32h1v-52h1v-11h1v2h1v32h1v-73h1v17h1v-38h1v-21h1v21h1v28h1v-214h2v16h1v-10h1v1h1v-3h2v2h1v6h1v-2h1v16h1v-21h1v-10h1v54h1v-24h1v-22h1v8h1v46h1v-61h1v69h1v-28h1v70h1v-72h1v-11h1v-15h1v71h1v-72h1v75h1v-66h1v3h1v-9h1v-12h1v28h1v-21h1v26h1v-18h1v32h1v-49h1v5h1v49h1v-32h1v-14h1v51h1v-24h1v-17h1v44h1v-40h1v11h1v-24h1v1h1v3h1v-10h1v-5h1v7h1v-4h1v11h1v-10h1v22h1v20h1v-35h1v5h1v20h1v22h1v72h1v-114h1v25h1v88h1v-34h1v-76h1v-5h1v4h1v-13h1v10h1v-7h1v33h1v-9h1v-11h1v2h1v-6h1v3h1v16h1v15h1v10h1v-36h1v33h1v28h1v-30h1v-44h1v38h1v-6h1v-38h1V400z"/>
<path fill="#12A04C" d="M0,400v-24h1v4h1v-5h1v5h1v-3h1v-10h1v-5h1v12h1v-12h1v7h1v-2h2v14h1v-5h1v-26h2v2h1v13h1v3h1v-21h1v-4h1v8h1v14h1v-14h1v-15h1v38h1v-12h1v2h1v-12h1v4h1v-32h1v-6h1v-4h1v13h1v-15h1v41h1v-54h1v-6h1v52h1v-62h1v46h1v-74h1v71h1v8h1v-90h1v-212h1v15h1v-21h2v26h1v-36h1v29h1v-5h1v-10h1v-8h1v5h1v46h1v-46h1v10h1v4h1v28h1v-22h1v-13h1v46h1v-39h1v-1h1v15h1v4h1v15h1v-10h1v74h1v-98h1v-2h1v40h1v-4h1v36h1v34h1v-21h1v70h1v-68h1v8h1v-78h1v63h1v97h1v-158h1v118h1v-128h1v-36h1v25h1v-13h1v-6h1v6h1v1h1v2h1v2h1v-6h1v2h1v7h1v-8h1v-1h1v13h1v23h1v-21h1v25h1v-17h1v-24h1v55h1v-42h1v28h1v28h1v-54h1v11h1v38h1v-7h1v-18h1v76h1v-39h1v-16h1v20h1v8h1v42h1v3h1v-82h1v-47h1v-1h1v-12h1v29h1v-5h1v-3h1v-4h1v-21h1v39h1v-11h1v-5h1v-11h1v20h1v5h1v-3h1v-10h1v30h1v-23h1v-1h1v-22h1v12h1v1h1v48h1v-13h1v12h1v-19h1v24h1v5h1v36h1v-93h1v12h1v130h1v-54h1v48h1v-87h1v284h1v17h1v-9h1v-14h1v6h1v4h1v-22h1v14h1v-17h1v2h1v37h1v-25h1v-32h1v27h1v8h1v-48h1v49h1v-76h1v3h1v61h1v-60h1v-38h1v58h1v1h1v-67h1v80h1v-56h1v-33h1v23h1v51h1v-92h1v74h1v-135h1v58h1v-61h1v235h1v-1h1v3h1v-3h1v-20h2v-3h1v7h1v-7h1v-5h1v-2h1v15h1v9h1v-19h1v-16h1v-22h1v-2h1v-27h1v42h1v-39h1v-23h1v-5h1v53h1v-78h1v21h1v-33h1v43h1v-2h1v-1h1v-257h2v33h1v-6h1v-15h1v-2h1v41h1v7h1v-14h1v-32h1v20h1v8h1v-46h1v73h1v-19h1v-23h1v-9h1v57h1v-76h1v74h1v10h1v36h1v-38h1v-48h1v-12h1v61h1v-60h1v68h1v-39h1v55h1v41h1v-117h2v-21h1v37h1v-1h1v4h1v-36h1v93h1v-28h1v-28h1v-9h1v24h1v53h1v-77h1v26h1v-18h1v34h1v-56h1v19h1v-23h1v8h1v-9h1v47h1v-56h1v3h1v-2h1v29h1v10h1v34h1v-53h1v35h1v-11h1v82h1v-109h1v10h1v116h1v-14h1v211h1v-9h2v-16h1v6h1v-11h1v29h1v-13h1v-16h1v-2h1v-12h1v-3h1v8h1v7h1v-1h1v-48h1v21h1v13h1v-45h1v-59h1v19h1v-30h1v-62h1V400z"/>
<path fill="#A32897" d="M0,400v-23h1v5h1v-6h1v5h1v-3h1v-11h2v8h1v-13h1v8h1v6h1v-6h1v15h1v-8h1v-25h1v-1h1v2h1v13h1v4h1v-22h1v-4h1v8h1v14h1v-7h1v-11h1v26h1v-11h1v4h1v-15h1v5h1v-31h1v-3h1v5h1v12h1v-27h1v43h1v-44h1v-17h1v59h1v-59h1v48h1v-86h1v72h1v6h1v-89h1v-214h1v15h1v-21h2v26h1v-36h1v29h1v-5h1v-10h1v-8h1v5h1v46h1v-46h1v10h1v4h1v28h1v-22h1v-13h1v46h1v-39h1v-1h1v15h1v4h1v15h1v-10h1v74h1v-98h1v-2h1v40h1v-4h1v36h1v34h1v-21h1v70h1v-68h1v8h1v-78h1v63h1v97h1v-158h1v118h1v-128h1v-36h1v25h1v-13h1v-6h1v6h1v1h1v2h1v2h1v-6h1v2h1v7h1v-8h1v-1h1v13h1v23h1v-21h1v25h1v-17h1v-24h1v55h1v-42h1v28h1v28h1v-54h1v11h1v38h1v-7h1v-18h1v76h1v-39h1v-16h1v20h1v8h1v42h1v3h1v-82h1v-46h1v-1h1v-11h1v28h1v7h1v-14h1v-3h1v-12h1v32h1v-13h1v1h1v-19h1v30h1v-4h1v11h2v12h1v-13h1v27h1v-40h1v44h1v-57h1v59h1v-23h1v18h1v21h1v-19h1v15h1v57h1v-120h1v92h1v48h1v-45h1v37h1v-90h1v281h1v17h1v-9h1v-14h1v6h1v4h1v-22h1v14h1v-17h1v2h1v37h1v-25h1v-32h1v27h1v8h1v-48h1v49h1v-76h1v3h1v61h1v-60h1v-38h1v58h1v1h1v-67h1v80h1v-56h1v-33h1v23h1v51h1v-92h1v74h1v-135h1v58h1v-61h1v235h1v-1h1v3h1v-3h1v-20h2v-3h1v7h1v-7h1v-5h1v-2h1v15h1v9h1v-19h1v-16h1v-22h1v-2h1v-27h1v42h1v-39h1v-23h1v-5h1v53h1v-78h1v21h1v-33h1v43h1v-2h1v-1h1v82h1v-5h1v29h1v-9h1v-19h1v-6h1v37h1v2h1v-18h1v-37h1v15h1v3h1v-51h1v66h1v-26h1v-30h1v-16h1v49h1v-85h1v66h1v2h1v27h1v-46h1v-56h1v-211h1v61h1v-56h1v74h1v-29h1v35h1v60h1v-136h1v1h1v-20h1v56h1v7h1v-17h1v-42h1v109h1v-40h1v-33h1v-3h1v18h1v54h1v-79h1v33h1v-23h1v33h1v-54h1v16h1v-21h1v5h1v2h1v39h1v-49h1v38h1v-42h1v40h1v-6h1v41h1v-51h1v29h1v-13h1v85h1v-112h1v15h1v128h1v-11h1v190h1v-9h2v-16h1v6h1v-11h1v29h1v-13h1v-16h1v-2h1v-12h1v-3h1v8h1v7h1v-1h1v-48h1v21h1v13h1v-45h1v-59h1v19h1v-30h1v-62h1V400z"/>
<path fill="#F52D69" d="M0,400v-23h1v6h1v-4h1v5h1v-1h1v-6h1v-10h1v13h1v-16h1v16h1v-2h1v-1h1v8h1v1h1v-34h1v-1h1v13h1v3h1v5h1v-17h1v-7h1v5h1v13h1v-6h1v9h1v14h1v-12h1v-3h1v-14h1v4h1v5h1v-39h1v11h1v7h1v-19h1v37h1v-28h1v-31h1v78h1v-81h1v50h1v-74h1v58h1v25h1v-109h1v-207h1v6h1v-21h1v14h1v16h1v-40h1v30h1v2h1v-10h1v-15h1v5h1v57h1v-57h1v13h1v1h1v28h1v-21h1v-11h1v44h1v-30h1v-11h1v24h1v-5h1v18h1v-12h1v88h1v-67h1v28h1v-20h1v-12h1v33h1v35h1v-27h1v77h1v-75h1v34h1v-104h1v64h1v100h1v-161h1v118h1v-121h1v-41h1v22h1v-13h1v5h1v-6h1v4h1v18h1v-12h1v-8h1v1h1v12h1v-4h1v-3h1v28h1v1h1v-22h1v33h1v6h1v-32h1v41h1v-32h1v51h1v-14h1v15h1v-29h1v31h1v-17h1v25h1v41h1v-57h1v8h1v18h1v-8h1v37h1v9h1v-85h1v-49h1v-3h1v-2h1v20h1v6h1v-14h1v10h1v-14h1v30h1v-8h1v-12h1v19h1v-7h1v24h1v-17h1v29h1v-7h1v-17h1v18h1v28h1v-15h1v-41h1v66h1v-52h1v30h1v9h1v-17h1v12h1v62h1v-58h1v92h1v-13h1v7h1v-18h1v26h1v161h1v15h1v-7h1v-5h1v13h1v-5h1v-15h1v8h1v-8h1v-12h1v41h1v-14h1v-32h1v15h1v10h1v-52h1v64h1v-96h1v3h1v98h1v-82h1v-17h1v59h1v-14h1v-64h1v67h1v-38h1v-57h1v29h1v77h1v13h1v-44h1v-22h1v43h1v-168h1v219h1v-1h1v4h1v-4h1v-16h1v15h1v-21h1v6h1v14h1v-24h1v19h2v3h1v-18h1v-6h1v19h1v-46h1v37h1v7h1v-58h1v-27h1v-1h1v84h1v-61h1v6h1v-49h1v53h1v15h1v-60h1v93h1v-14h1v22h1v3h1v-6h1v-32h1v38h1v3h1v-19h1v-34h1v16h2v-46h1v61h1v-27h1v-22h1v-17h1v67h1v-71h1v41h1v4h1v21h1v6h1v-68h1v-221h1v22h1v-28h1v86h1v-12h1v32h1v10h1v-121h1v13h1v-50h1v82h1v-12h1v-24h1v-33h1v107h1v-30h1v73h1v-34h1v3h1v-22h1v-2h1v-5h1v14h1v43h1v170h1v11h1v-25h1v2h1v-2h1v34h1v-53h1v33h1v-47h1v35h1v-13h1v34h1v-60h1v20h1v-23h1v74h1v-122h1v4h1v118h1v-21h1v28h1v-5h1v-20h1v8h1v-9h1v-21h1v30h1v4h1v13h1v-42h1v-5h1v8h1v-13h1v13h1v-3h1v5h1v-23h1v1h1v25h1v-92h1v9h1v74h1v-192h1V400z"/>
<path fill="#14EA30" d="M0,400v-10h1v-2h1v-9h1v6h1v-1h1v-7h1v-8h1v12h1v-3h1v10h1v-4h1v-2h1v5h2v-34h1v31h1v-19h1v12h1v1h1v-9h1v-8h1v11h1v-1h1v-9h1v10h1v14h1v-10h1v11h1v-26h1v-2h1v8h1v-24h1v4h1v13h1v-20h1v25h1v-30h1v-27h1v75h1v-50h1v30h1v-26h1v-3h1v24h1v9h1v12h1v2h1v-24h1v11h1v12h1v-43h1v27h1v-2h1v-13h1v-19h1v2h1v53h1v-61h1v10h1v-4h1v24h1v-25h1v-17h1v39h1v-36h1v-18h1v18h1v-13h1v11h1v-19h1v81h1v-74h1v20h1v-26h1v-20h1v27h1v29h1v-33h1v71h1v-81h1v28h1v-110h1v58h1v93h1v-166h1v112h1v-127h1v-160h1v23h1v-4h1v5h1v3h1v-9h1v13h1v2h1v5h1v-8h1v9h1v-17h1v14h1v14h1v-3h1v11h2v7h1v-4h1v17h1v-13h1v27h1v-2h1v10h1v1h1v18h1v-2h1v-4h1v32h1v-10h1v5h1v12h1v-9h1v39h1v-6h1v24h1v-179h1v-2h1v5h1v9h1v3h1v-14h1v25h1v-2h1v6h2v3h1v5h1v7h1v9h1v-4h1v6h1v1h1v-23h1v40h1v15h1v-5h1v4h1v7h1v15h1v-43h1v55h1v-53h1v79h1v2h1v1h1v26h1v-16h1v3h1v15h1v34h1v130h2v2h1v-6h1v7h1v3h1v-1h1v-7h1v-12h1v-16h1v40h1v-14h1v-19h1v20h1v-7h1v-47h1v59h1v-61h1v-28h1v95h1v-67h1v33h2v-6h1v-63h1v55h1v-31h1v-34h1v-6h1v91h1v4h1v-15h1v5h1v1h1v-22h1v54h2v4h1v-4h1v-16h1v13h1v-17h1v15h1v2h1v-19h1v15h1v1h1v2h1v-7h1v-10h1v18h1v-52h1v47h1v4h1v-56h1v-2h1v1h1v48h1v-60h1v6h1v-27h1v29h1v17h1v-3h1v34h1v-14h1v28h1v-4h1v-3h1v-26h1v30h1v2h1v-19h1v4h1v-17h1v-3h1v-41h1v69h1v-41h1v1h1v-29h1v58h1v-74h1v43h1v22h1v1h1v18h1v-79h1v-64h1v-12h1v-10h1v8h1v-52h1v54h1v-13h1v3h1v3h1v-2h1v-25h1v31h1v-24h1v11h1v-24h1v7h1v28h1v-20h1v-17h1v29h1v-15h1v16h1v-5h1v8h1v155h1v3h1v-25h1v19h1v-16h1v29h1v-50h1v37h1v16h1v-1h1v-44h1v54h1v-64h1v5h1v10h1v39h1v-122h1v117h1v11h1v-19h1v25h1v-9h1v7h1v-21h1v10h1v9h1v-10h1v2h1v11h3v-42h1v-7h1v28h1v5h1v-24h1v-21h1v4h1v30h1v-27h1v44h1v-20h1v-208h1V400z"/>
<path fill="#3C42EB" d="M0,400v-9h1v-1h1v-10h1v10h1v-2h1v-9h1v11h1v-4h1v-7h1v10h1v2h1v-7h1v5h1v-1h1v-23h1v21h1v-15h1v19h1v-3h1v-13h1v-10h1v13h1v8h1v-22h1v20h1v4h1v3h1v-1h1v-8h1v-22h1v13h1v-14h1v14h1v-2h1v-9h1v24h1v-49h1v-26h1v78h1v-20h1v10h1v-38h1v9h1v10h1v9h1v16h2v5h1v-15h1v12h1v-3h1v-15h1v18h1v-1h1v-27h1v32h1v2h1v-10h1v-10h1v13h1v-13h2v-7h1v-7h1v27h1v-59h1v-2h1v56h1v-19h1v9h1v12h1v-17h1v-29h1v37h1v-7h1v-24h1v17h1v-50h1v70h1v-42h1v-16h1v70h1v-11h1v-13h1v-74h1v91h1v-60h1v-289h1v5h1v2h1v-1h1v6h1v1h1v3h1v2h1v2h1v3h1v-2h1v-1h1v-1h1v17h1v-4h1v12h1v2h1v2h1v9h1v6h1v5h1v6h1v8h1v1h1v14h1v5h1v-3h1v14h1v17h1v9h1v19h1v-24h1v36h1v-3h1v-9h1v66h1v-221h1v-3h1v12h1v3h1v5h1v4h1v4h1v4h1v1h1v7h1v-2h1v3h1v12h1v6h1v6h1v-4h1v15h1v2h1v5h1v10h1v4h1v8h1v-1h1v17h1v-36h1v43h1v5h1v20h1v6h1v8h1v14h1v15h1v10h1v-9h1v22h1v127h2v2h1v4h1v3h1v-3h1v3h1v-11h1v-8h1v-6h1v27h1v-14h1v-4h1v5h1v2h1v-17h1v19h1v-60h1v-2h1v69h1v-9h1v-9h1v7h1v-28h1v-24h1v25h1v11h1v-43h1v27h1v14h1v21h1v-21h1v-3h1v26h1v-46h1v51h1v-2h1v4h1v1h1v-21h1v15h1v-19h1v15h1v3h1v-14h1v14h1v-4h1v3h1v-4h1v-13h1v17h1v-52h1v49h1v4h1v-36h1v-12h1v-8h1v49h1v-63h1v19h1v43h1v-42h1v17h1v15h1v12h1v-12h1v18h1v7h1v-8h1v3h1v-2h1v-1h1v7h1v-18h1v-6h1v22h1v-78h1v69h1v9h1v-12h1v-25h1v22h1v-6h1v-31h1v31h1v18h2v-7h1v8h1v-10h1v-9h1v9h1v-50h1v56h1v-12h1v4h1v4h2v-24h1v32h1v-23h1v11h1v-23h1v8h1v29h1v-20h1v-16h1v29h1v-14h1v17h1v-5h1v9h1v-17h1v16h1v-5h1v5h1v-37h1v31h1v6h1v-13h1v10h1v-2h1v-27h1v33h1v-51h1v33h1v-29h1v46h1v-114h1v114h1v2h1v-1h1v2h1v-9h1v8h1v-6h1v1h1v2h1v-1h1v2h1v1h1v3h1v-1h1v-26h1v-4h1v12h1v17h1v-33h1v5h1v9h1v4h1v7h1v9h1v-21h1v17h1V400z"/>
<path fill="#FA3CEB" d="M0,400v-7h1v-2h1v-8h1v9h1v-3h1v-3h1v6h1v-6h1v-5h1v10h1v1h2v-2h1v1h1v-18h1v17h1v2h1v-2h1v-2h1v-12h1v-11h1v14h1v7h1v-22h1v28h1v-3h1v1h1v1h2v-31h1v23h1v-20h1v22h1v-5h1v-8h1v16h1v-50h1v40h1v11h1v-11h1v3h1v-33h1v6h1v19h1v17h1v-5h2v7h1v-11h1v9h1v-3h1v3h1v-3h1v4h1v1h1v-1h1v1h1v-2h1v-8h1v10h1v-10h1v10h1v-1h1v-1h1v-2h1v-29h1v-24h1v54h1v-9h1v-6h1v13h1v-18h1v22h1v-12h1v-4h1v1h1v-15h1v29h1v-9h1v8h1v-57h1v60h1v-1h2v-72h1v66h1v-44h1v-303h1v2h1v3h1v2h1v3h1v2h1v2h1v3h1v2h1v3h1v2h1v3h1v3h1v4h1v3h1v4h1v4h1v5h1v5h1v5h1v6h1v6h1v7h1v8h1v7h1v8h1v9h1v9h1v10h1v12h1v13h1v16h1v16h1v17h1v17h1v17h1v116h1v-6h1v7h1v-1h3v1h2v-3h1v2h1v-6h1v-2h1v7h2v1h1v-8h1v8h1v-3h1v-1h1v4h1v-4h1v2h1v-8h1v10h1v-44h1v35h1v-3h1v11h1v-4h1v-2h1v3h1v3h1v-1h1v-20h1v11h2v1h1v9h1v1h1v-1h1v-2h1v3h1v-5h1v-16h1v-3h1v24h1v-9h1v-8h1v11h1v2h1v-23h1v25h1v-66h1v-3h1v70h1v-8h1v-8h1v16h1v-38h1v-5h1v41h1v-22h1v-11h1v15h2v16h1v-24h1v17h1v10h1v-21h1v20h1v-1h1v4h2v-20h1v14h1v-18h1v22h1v-2h1v-15h1v14h1v-3h1v2h1v-2h1v-15h1v17h1v-54h1v51h1v4h1v-31h1v-16h1v17h1v30h1v-70h1v25h1v48h1v-54h1v16h1v38h1v-9h1v11h4v-5h1v-1h1v1h1v5h1v-10h1v-2h1v9h1v2h1v-2h1v2h1v-13h1v-4h1v12h1v-17h1v18h1v-17h1v19h1v-2h1v-5h1v7h1v2h1v-20h1v9h1v-11h1v16h1v3h1v-11h1v6h1v8h1v-20h1v17h1v-2h1v-3h1v2h1v7h2v-21h1v19h1v2h1v-15h1v15h1v-1h2v-18h1v18h1v-3h1v4h1v-37h1v34h3v2h1v1h1v-13h1v11h1v-35h1v17h1v-11h1v31h1v-45h1v44h4v-3h1v2h1v-5h1v7h1v-3h1v2h1v-2h1v1h1v2h1v-1h1v-13h1v-16h1v21h1v9h1v-12h1v5h1v-12h1v17h1v1h2v-10h1v11h1V400z"/>
</svg>
<path d="M268.1,410.7h2.4M268.1,389.3h2.4M268.1,367.6h2.4M268.1,346.0h2.4M268.1,324.7h2.4" stroke="#a9a9a9" stroke-width="0.9" fill="none"/>
<path d="M273.2,412.4H481.0" stroke="#c6c6c6" stroke-width="1" stroke-dasharray="3.2 0.5" fill="none"/>
</svg>
<div class="kl" style="left:16.1px;top:61.1px">K=2</div>
<div class="kl" style="left:16.1px;top:160.4px">K=3</div>
<div class="kl" style="left:16.1px;top:259.3px">K=4</div>
<div class="kl" style="left:16.1px;top:358.3px">K=5</div>
<div class="kl" style="left:16.1px;top:457.5px">K=6</div>
<div class="kl" style="left:262.1px;top:61.1px">K=7</div>
<div class="kl" style="left:262.1px;top:160.4px">K=8</div>
<div class="kl" style="left:262.1px;top:259.3px">K=9</div>
<div class="kl" style="left:262.1px;top:355.4px">K=10</div>
<div class="sw" style="top:196.0px;background:#FCA970"></div>
<div class="lg" style="top:196.1px">pop 1</div>
<div class="sw" style="top:211.1px;background:#0AA3E8"></div>
<div class="lg" style="top:211.2px">pop 2</div>
<div class="sw" style="top:226.3px;background:#E2F21A"></div>
<div class="lg" style="top:226.4px">pop 3</div>
<div class="sw" style="top:241.4px;background:#FCA5EA"></div>
<div class="lg" style="top:241.5px">pop 4</div>
<div class="sw" style="top:256.5px;background:#10A650"></div>
<div class="lg" style="top:256.6px">pop 5</div>
<div class="sw" style="top:271.6px;background:#AC2EA6"></div>
<div class="lg" style="top:271.8px">pop 6</div>
<div class="sw" style="top:286.8px;background:#F82E6C"></div>
<div class="lg" style="top:286.9px">pop 7</div>
<div class="sw" style="top:301.9px;background:#0AF434"></div>
<div class="lg" style="top:302.0px">pop 8</div>
<div class="sw" style="top:317.0px;background:#4446F6"></div>
<div class="lg" style="top:317.1px">pop 9</div>
<div class="sw" style="top:332.2px;background:#FC38F4"></div>
<div class="lg" style="top:332.3px">pop 10</div>
<svg class="pn" style="left:0;top:520px;width:550px;height:253px" viewBox="0 520 550 253">
<g stroke="#7c7c7c" stroke-width="1.2" fill="none">
<path d="M124.1,545.2V742.1H458.5"/>
<path d="M124.1,742.1h-3.3"/>
<path d="M124.1,720.2h-3.3"/>
<path d="M124.1,698.3h-3.3"/>
<path d="M124.1,676.5h-3.3"/>
<path d="M124.1,654.6h-3.3"/>
<path d="M124.1,632.7h-3.3"/>
<path d="M124.1,610.8h-3.3"/>
<path d="M124.1,588.9h-3.3"/>
<path d="M124.1,567.1h-3.3"/>
<path d="M124.1,545.2h-3.3"/>
<path d="M124.1,742.1v-3"/>
<path d="M165.9,742.1v-3"/>
<path d="M207.7,742.1v-3"/>
<path d="M249.5,742.1v-3"/>
<path d="M291.3,742.1v-3"/>
<path d="M333.1,742.1v-3"/>
<path d="M374.9,742.1v-3"/>
<path d="M416.7,742.1v-3"/>
<path d="M458.5,742.1v-3"/>
</g>
<polyline points="124.1,742.1 165.9,578.0 207.7,734.7 249.5,645.0 291.3,717.6 333.1,734.2 374.9,737.5 416.7,736.2 458.5,739.9" fill="none" stroke="#1F6FD4" stroke-width="1.7" stroke-linejoin="miter"/>
<g font-family="Liberation Serif,serif" font-size="10.4" fill="#111">
<text x="114.4" y="745.6" text-anchor="end">0</text>
<text x="114.4" y="723.7" text-anchor="end">5</text>
<text x="114.4" y="701.8" text-anchor="end">10</text>
<text x="114.4" y="680.0" text-anchor="end">15</text>
<text x="114.4" y="658.1" text-anchor="end">20</text>
<text x="114.4" y="636.2" text-anchor="end">25</text>
<text x="114.4" y="614.3" text-anchor="end">30</text>
<text x="114.4" y="592.4" text-anchor="end">35</text>
<text x="114.4" y="570.6" text-anchor="end">40</text>
<text x="114.4" y="548.7" text-anchor="end">45</text>
<text x="124.6" y="757.7" text-anchor="middle">2</text>
<text x="166.4" y="757.7" text-anchor="middle">3</text>
<text x="208.2" y="757.7" text-anchor="middle">4</text>
<text x="250.0" y="757.7" text-anchor="middle">5</text>
<text x="291.8" y="757.7" text-anchor="middle">6</text>
<text x="333.6" y="757.7" text-anchor="middle">7</text>
<text x="375.4" y="757.7" text-anchor="middle">8</text>
<text x="417.2" y="757.7" text-anchor="middle">9</text>
<text x="459.0" y="757.7" text-anchor="middle">10</text>
<text x="295" y="770.3" text-anchor="middle" font-size="10">K</text>
<text transform="translate(98.6,643.6) rotate(-90)" text-anchor="middle" font-size="10">Delta K</text>
<text x="277.7" y="541.5" text-anchor="middle" font-size="12.5">Delta K</text>
</g></svg>
</body></html>
